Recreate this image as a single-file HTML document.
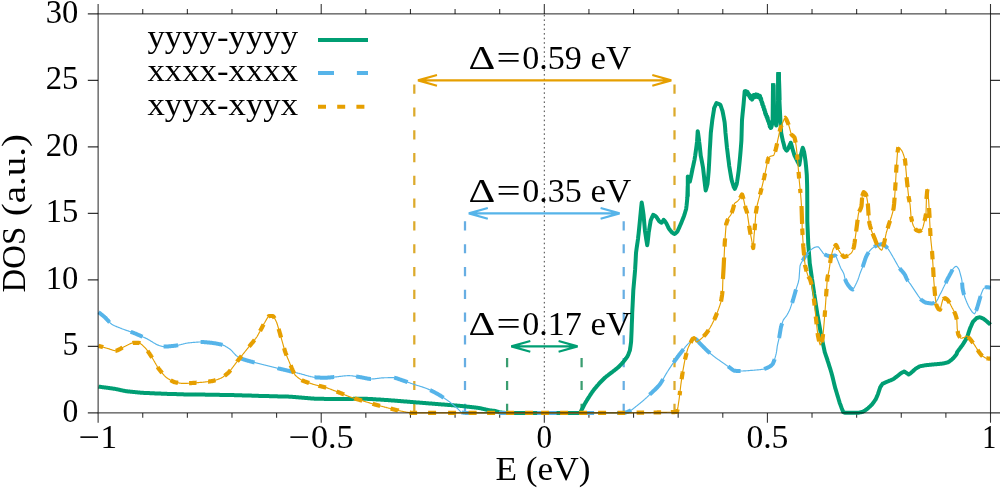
<!DOCTYPE html>
<html lang="en"><head><meta charset="utf-8"><title>DOS</title>
<style>html,body{margin:0;padding:0;background:#fff;}svg{display:block;}</style>
</head><body>
<svg width="1000" height="489" viewBox="0 0 1000 489">
<rect width="1000" height="489" fill="#ffffff"/>
<path d="M98.12,412.88v9.8M98.12,13.88v-9.8M142.74,412.88v4.9M142.74,13.88v-4.9M187.36,412.88v4.9M187.36,13.88v-4.9M231.98,412.88v4.9M231.98,13.88v-4.9M276.60,412.88v4.9M276.60,13.88v-4.9M321.21,412.88v9.8M321.21,13.88v-9.8M365.83,412.88v4.9M365.83,13.88v-4.9M410.45,412.88v4.9M410.45,13.88v-4.9M455.07,412.88v4.9M455.07,13.88v-4.9M499.69,412.88v4.9M499.69,13.88v-4.9M544.31,412.88v9.8M544.31,13.88v-9.8M588.93,412.88v4.9M588.93,13.88v-4.9M633.55,412.88v4.9M633.55,13.88v-4.9M678.17,412.88v4.9M678.17,13.88v-4.9M722.79,412.88v4.9M722.79,13.88v-4.9M767.41,412.88v9.8M767.41,13.88v-9.8M812.02,412.88v4.9M812.02,13.88v-4.9M856.64,412.88v4.9M856.64,13.88v-4.9M901.26,412.88v4.9M901.26,13.88v-4.9M945.88,412.88v4.9M945.88,13.88v-4.9M990.50,412.88v9.8M990.50,13.88v-9.8M98.12,412.88h-10.3M990.50,412.88h10.3M98.12,346.38h-10.3M990.50,346.38h10.3M98.12,279.88h-10.3M990.50,279.88h10.3M98.12,213.38h-10.3M990.50,213.38h10.3M98.12,146.88h-10.3M990.50,146.88h10.3M98.12,80.38h-10.3M990.50,80.38h10.3M98.12,13.88h-10.3M990.50,13.88h10.3" stroke="#000000" stroke-opacity="0.8" stroke-width="1.08" fill="none"/>
<path d="M544.31,412.88V13.88" stroke="#444" stroke-width="1" stroke-dasharray="1.6 2.957" fill="none"/>
<path d="M414.30,412.88V80.38" stroke="#DAA520" stroke-width="2.25" stroke-opacity="0.95" stroke-dasharray="9.2 13.59" fill="none"/>
<path d="M674.50,412.88V80.38" stroke="#DAA520" stroke-width="2.25" stroke-opacity="0.95" stroke-dasharray="9.2 13.59" fill="none"/>
<path d="M418.00,80.38H671.30M437.00,75.08L418.00,80.38L437.00,85.68M652.30,75.08L671.30,80.38L652.30,85.68" stroke="#E69F00" stroke-width="2.1" fill="none" stroke-linejoin="bevel" stroke-linecap="butt"/>
<path d="M465.00,412.88V213.38" stroke="#5FAAE1" stroke-width="2.25" stroke-opacity="0.95" stroke-dasharray="9.2 13.59" fill="none"/>
<path d="M623.70,412.88V213.38" stroke="#5FAAE1" stroke-width="2.25" stroke-opacity="0.95" stroke-dasharray="9.2 13.59" fill="none"/>
<path d="M468.80,213.38H619.60M487.80,208.08L468.80,213.38L487.80,218.68M600.60,208.08L619.60,213.38L600.60,218.68" stroke="#56B4E9" stroke-width="2.1" fill="none" stroke-linejoin="bevel" stroke-linecap="butt"/>
<path d="M507.10,412.88V346.38" stroke="#2F9868" stroke-width="2.25" stroke-opacity="0.95" stroke-dasharray="9.2 13.59" fill="none"/>
<path d="M581.60,412.88V346.38" stroke="#2F9868" stroke-width="2.25" stroke-opacity="0.95" stroke-dasharray="9.2 13.59" fill="none"/>
<path d="M511.30,346.38H577.60M530.30,341.08L511.30,346.38L530.30,351.68M558.60,341.08L577.60,346.38L558.60,351.68" stroke="#009E73" stroke-width="2.1" fill="none" stroke-linejoin="bevel" stroke-linecap="butt"/>
<path d="M98.6,386.6L99.1,386.7L99.6,386.8L100.1,386.8L100.6,386.9L101.1,387.0L101.6,387.0L102.1,387.1L102.6,387.2L103.1,387.2L103.6,387.3L104.1,387.4L104.6,387.4L105.1,387.5L105.6,387.6L106.1,387.6L106.6,387.7L107.1,387.8L107.6,387.8L108.1,387.9L108.6,388.0L109.1,388.1L109.6,388.1L110.1,388.2L110.6,388.3L111.1,388.3L111.6,388.4L112.1,388.5L112.6,388.6L113.1,388.6L113.6,388.7L114.1,388.8L114.5,388.8L114.6,388.8L115.1,388.9L115.6,389.0L116.1,389.1L116.6,389.2L117.1,389.3L117.6,389.4L118.1,389.5L118.6,389.6L119.1,389.7L119.6,389.8L120.1,390.0L120.6,390.1L121.1,390.2L121.6,390.3L122.1,390.4L122.6,390.5L123.1,390.6L123.6,390.7L124.1,390.8L124.6,390.9L125.1,391.0L125.6,391.1L126.1,391.2L126.6,391.2L126.8,391.3L127.1,391.3L127.6,391.4L128.1,391.4L128.6,391.5L129.1,391.5L129.6,391.6L130.1,391.6L130.6,391.7L131.1,391.7L131.6,391.8L132.1,391.8L132.6,391.9L133.1,391.9L133.6,392.0L134.1,392.0L134.6,392.1L135.1,392.1L135.6,392.2L136.1,392.2L136.6,392.3L137.1,392.3L137.6,392.4L138.1,392.4L138.6,392.5L139.1,392.5L139.6,392.6L140.1,392.6L140.6,392.7L141.1,392.7L141.5,392.8L141.6,392.8L142.1,392.8L142.6,392.8L143.1,392.8L143.6,392.9L144.1,392.9L144.6,392.9L145.1,392.9L145.6,393.0L146.1,393.0L146.6,393.0L147.1,393.0L147.6,393.0L148.1,393.1L148.6,393.1L149.1,393.1L149.6,393.1L150.1,393.2L150.6,393.2L151.1,393.2L151.6,393.2L152.1,393.2L152.6,393.3L153.1,393.3L153.6,393.3L154.1,393.3L154.6,393.4L155.1,393.4L155.6,393.4L156.1,393.4L156.6,393.4L157.1,393.5L157.6,393.5L158.1,393.5L158.6,393.5L159.1,393.5L159.6,393.6L160.1,393.6L160.6,393.6L161.1,393.6L161.6,393.7L162.1,393.7L162.6,393.7L163.1,393.7L163.6,393.7L163.6,393.7L164.1,393.8L164.6,393.8L165.1,393.8L165.6,393.8L166.1,393.8L166.6,393.8L167.1,393.9L167.6,393.9L168.1,393.9L168.6,393.9L169.1,393.9L169.6,393.9L170.1,393.9L170.6,394.0L171.1,394.0L171.6,394.0L172.1,394.0L172.6,394.0L173.1,394.0L173.6,394.1L174.1,394.1L174.6,394.1L175.1,394.1L175.6,394.1L176.1,394.1L176.6,394.1L177.1,394.2L177.6,394.2L178.1,394.2L178.6,394.2L179.1,394.2L179.6,394.2L180.1,394.2L180.6,394.3L181.1,394.3L181.6,394.3L182.1,394.3L182.6,394.3L183.1,394.3L183.6,394.4L184.1,394.4L184.6,394.4L185.1,394.4L185.6,394.4L186.1,394.4L186.6,394.4L187.1,394.4L187.6,394.5L188.1,394.5L188.2,394.5L188.6,394.5L189.1,394.5L189.6,394.5L190.1,394.5L190.6,394.5L191.1,394.5L191.6,394.5L192.1,394.5L192.6,394.5L193.1,394.5L193.6,394.5L194.1,394.5L194.6,394.5L195.1,394.6L195.6,394.6L196.1,394.6L196.6,394.6L197.1,394.6L197.6,394.6L198.1,394.6L198.6,394.6L199.1,394.6L199.6,394.6L200.1,394.6L200.6,394.6L201.1,394.6L201.6,394.6L202.1,394.6L202.6,394.6L203.1,394.6L203.6,394.6L204.1,394.6L204.6,394.6L205.1,394.6L205.6,394.7L206.1,394.7L206.6,394.7L207.1,394.7L207.6,394.7L208.1,394.7L208.6,394.7L209.1,394.7L209.6,394.7L210.1,394.7L210.6,394.7L211.1,394.7L211.6,394.7L212.1,394.7L212.6,394.7L212.7,394.7L213.1,394.7L213.6,394.7L214.1,394.8L214.6,394.8L215.1,394.8L215.6,394.8L216.1,394.8L216.6,394.8L217.1,394.8L217.6,394.8L218.1,394.8L218.6,394.8L219.1,394.8L219.6,394.9L220.1,394.9L220.6,394.9L221.1,394.9L221.6,394.9L222.1,394.9L222.6,394.9L223.1,394.9L223.6,394.9L224.1,394.9L224.6,395.0L225.1,395.0L225.6,395.0L226.1,395.0L226.6,395.0L227.1,395.0L227.6,395.0L228.1,395.0L228.6,395.0L229.1,395.0L229.6,395.1L230.1,395.1L230.6,395.1L231.1,395.1L231.6,395.1L232.1,395.1L232.6,395.1L233.1,395.1L233.6,395.1L234.1,395.1L234.6,395.2L235.1,395.2L235.6,395.2L236.1,395.2L236.6,395.2L237.1,395.2L237.2,395.2L237.6,395.2L238.1,395.2L238.6,395.3L239.1,395.3L239.6,395.3L240.1,395.3L240.6,395.3L241.1,395.3L241.6,395.3L242.1,395.4L242.6,395.4L243.1,395.4L243.6,395.4L244.1,395.4L244.6,395.4L245.1,395.4L245.6,395.5L246.1,395.5L246.6,395.5L247.1,395.5L247.6,395.5L248.1,395.5L248.6,395.6L249.1,395.6L249.6,395.6L250.1,395.6L250.6,395.6L251.1,395.6L251.6,395.6L252.1,395.7L252.6,395.7L253.1,395.7L253.6,395.7L254.1,395.7L254.6,395.7L255.1,395.8L255.6,395.8L256.1,395.8L256.6,395.8L257.1,395.8L257.6,395.8L258.1,395.8L258.6,395.9L259.1,395.9L259.6,395.9L260.1,395.9L260.6,395.9L261.1,395.9L261.6,395.9L261.8,396.0L262.1,396.0L262.6,396.0L263.1,396.0L263.6,396.0L264.1,396.0L264.6,396.0L265.1,396.0L265.6,396.1L266.1,396.1L266.6,396.1L267.1,396.1L267.6,396.1L268.1,396.1L268.6,396.1L269.1,396.1L269.6,396.2L270.1,396.2L270.6,396.2L271.1,396.2L271.6,396.2L272.1,396.2L272.6,396.2L273.1,396.2L273.6,396.3L274.1,396.3L274.6,396.3L275.1,396.3L275.6,396.3L276.1,396.3L276.6,396.3L277.1,396.3L277.6,396.4L278.1,396.4L278.6,396.4L279.1,396.4L279.6,396.4L280.1,396.4L280.6,396.4L281.1,396.4L281.6,396.5L282.1,396.5L282.6,396.5L283.1,396.5L283.6,396.5L284.1,396.5L284.6,396.5L285.1,396.6L285.6,396.6L286.1,396.6L286.6,396.6L287.1,396.6L287.6,396.6L288.1,396.6L288.6,396.6L289.1,396.7L289.6,396.7L290.0,396.7L290.1,396.7L290.6,396.7L291.1,396.8L291.6,396.8L292.1,396.8L292.6,396.9L293.1,396.9L293.6,397.0L294.1,397.0L294.6,397.0L295.1,397.1L295.6,397.1L296.1,397.2L296.6,397.2L297.1,397.2L297.6,397.3L298.1,397.3L298.6,397.4L299.1,397.4L299.6,397.4L300.1,397.5L300.6,397.5L301.1,397.6L301.6,397.6L302.1,397.7L302.6,397.7L303.1,397.7L303.6,397.8L304.1,397.8L304.6,397.9L305.1,397.9L305.6,398.0L306.1,398.0L306.6,398.0L307.1,398.1L307.6,398.1L308.1,398.2L308.6,398.2L309.1,398.2L309.6,398.3L310.1,398.3L310.6,398.4L311.1,398.4L311.6,398.4L312.1,398.5L312.6,398.5L313.1,398.5L313.6,398.6L314.1,398.6L314.5,398.7L314.6,398.7L315.1,398.7L315.6,398.7L316.1,398.7L316.6,398.7L317.1,398.7L317.6,398.7L318.1,398.7L318.6,398.7L319.1,398.8L319.6,398.8L320.1,398.8L320.6,398.8L321.1,398.8L321.6,398.8L322.1,398.8L322.6,398.8L323.1,398.8L323.6,398.8L324.1,398.9L324.6,398.9L325.1,398.9L325.6,398.9L326.1,398.9L326.6,398.9L327.1,398.9L327.6,398.9L328.1,398.9L328.6,399.0L329.1,399.0L329.6,399.0L330.1,399.0L330.6,399.0L331.1,399.0L331.6,399.0L332.1,399.0L332.6,399.0L333.1,399.0L333.6,399.0L334.1,399.1L334.6,399.1L335.1,399.1L335.6,399.1L336.1,399.1L336.6,399.1L337.1,399.1L337.6,399.1L338.1,399.1L338.6,399.1L339.1,399.1L339.1,399.1L339.6,399.1L340.1,399.1L340.6,399.1L341.1,399.1L341.6,399.1L342.1,399.1L342.6,399.1L343.1,399.1L343.6,399.1L344.1,399.1L344.6,399.0L345.1,399.0L345.6,399.0L346.1,399.0L346.6,399.0L347.1,399.0L347.6,399.0L348.1,399.0L348.6,399.0L349.1,398.9L349.6,398.9L350.1,398.9L350.6,398.9L351.1,398.9L351.6,398.9L352.1,398.9L352.6,398.9L353.1,398.9L353.6,398.8L354.1,398.8L354.6,398.8L355.1,398.8L355.6,398.8L356.1,398.8L356.6,398.8L357.1,398.8L357.6,398.8L358.1,398.8L358.6,398.7L359.1,398.7L359.6,398.7L360.1,398.7L360.6,398.7L361.1,398.7L361.6,398.7L362.1,398.7L362.6,398.7L363.1,398.7L363.6,398.7L363.6,398.7L364.1,398.7L364.6,398.7L365.1,398.7L365.6,398.7L366.1,398.8L366.6,398.8L367.1,398.8L367.6,398.9L368.1,398.9L368.6,398.9L369.1,398.9L369.6,399.0L370.1,399.0L370.6,399.0L371.1,399.1L371.6,399.1L372.1,399.1L372.6,399.1L373.1,399.2L373.6,399.2L374.1,399.2L374.6,399.3L375.1,399.3L375.6,399.3L376.1,399.4L376.6,399.4L377.1,399.4L377.6,399.5L378.1,399.5L378.6,399.5L379.1,399.5L379.6,399.6L380.1,399.6L380.6,399.6L381.1,399.7L381.6,399.7L382.1,399.7L382.6,399.8L383.1,399.8L383.6,399.8L384.1,399.9L384.6,399.9L385.1,399.9L385.6,400.0L386.1,400.0L386.6,400.0L387.1,400.1L387.6,400.1L388.1,400.1L388.2,400.1L388.6,400.2L389.1,400.2L389.6,400.2L390.1,400.3L390.6,400.3L391.1,400.4L391.6,400.4L392.1,400.4L392.6,400.5L393.1,400.5L393.6,400.5L394.1,400.6L394.6,400.6L395.1,400.7L395.6,400.7L396.1,400.7L396.6,400.8L397.1,400.8L397.6,400.9L398.1,400.9L398.6,400.9L399.1,401.0L399.6,401.0L400.1,401.1L400.6,401.1L401.1,401.2L401.6,401.2L402.1,401.2L402.6,401.3L403.1,401.3L403.6,401.4L404.1,401.4L404.6,401.4L405.1,401.5L405.6,401.5L406.1,401.6L406.6,401.6L407.1,401.6L407.6,401.7L408.1,401.7L408.6,401.8L409.1,401.8L409.6,401.8L410.1,401.9L410.6,401.9L411.1,402.0L411.6,402.0L412.1,402.0L412.6,402.1L412.7,402.1L413.1,402.1L413.6,402.2L414.1,402.2L414.6,402.2L415.1,402.3L415.6,402.3L416.1,402.4L416.6,402.4L417.1,402.4L417.6,402.5L418.1,402.5L418.6,402.6L419.1,402.6L419.6,402.6L420.1,402.7L420.6,402.7L421.1,402.8L421.6,402.8L422.1,402.8L422.6,402.9L423.1,402.9L423.6,403.0L424.1,403.0L424.6,403.0L425.1,403.1L425.6,403.1L426.1,403.2L426.6,403.2L427.1,403.2L427.6,403.3L428.1,403.3L428.6,403.4L429.1,403.4L429.6,403.4L430.1,403.5L430.6,403.5L431.1,403.6L431.6,403.6L432.1,403.6L432.6,403.7L433.1,403.7L433.6,403.8L434.1,403.8L434.6,403.8L435.1,403.9L435.6,403.9L436.1,404.0L436.6,404.0L437.1,404.0L437.2,404.0L437.6,404.1L438.1,404.1L438.6,404.2L439.1,404.2L439.6,404.2L440.1,404.3L440.6,404.3L441.1,404.4L441.6,404.4L442.1,404.4L442.6,404.5L443.1,404.5L443.6,404.6L444.1,404.6L444.6,404.6L445.1,404.7L445.6,404.7L446.1,404.8L446.6,404.8L447.1,404.8L447.6,404.9L448.1,404.9L448.6,404.9L449.1,405.0L449.6,405.0L450.1,405.1L450.6,405.1L451.1,405.1L451.6,405.2L452.1,405.2L452.6,405.3L453.1,405.3L453.6,405.3L454.1,405.4L454.6,405.4L455.1,405.5L455.6,405.5L456.1,405.5L456.6,405.6L457.1,405.6L457.6,405.7L458.1,405.7L458.6,405.7L459.1,405.8L459.6,405.8L460.1,405.9L460.6,405.9L461.1,406.0L461.6,406.0L461.8,406.0L462.1,406.0L462.6,406.1L463.1,406.2L463.6,406.2L464.1,406.3L464.6,406.3L465.1,406.4L465.6,406.4L466.1,406.5L466.6,406.5L467.1,406.6L467.6,406.7L468.1,406.7L468.6,406.8L469.1,406.8L469.6,406.9L470.1,406.9L470.6,407.0L471.1,407.1L471.6,407.1L472.1,407.2L472.6,407.2L473.1,407.3L473.6,407.3L474.1,407.4L474.6,407.5L475.1,407.5L475.6,407.6L476.1,407.6L476.6,407.7L477.1,407.7L477.6,407.8L478.1,407.9L478.6,407.9L479.0,408.0L479.1,408.0L479.6,408.1L480.1,408.2L480.6,408.3L481.1,408.4L481.6,408.5L482.1,408.7L482.6,408.8L483.1,408.9L483.6,409.0L484.1,409.1L484.6,409.2L485.1,409.3L485.6,409.5L486.1,409.6L486.6,409.7L487.1,409.8L487.6,409.9L488.1,410.0L488.6,410.1L489.1,410.2L489.6,410.3L490.0,410.4L490.1,410.4L490.6,410.5L491.1,410.5L491.6,410.6L492.1,410.6L492.6,410.7L493.1,410.7L493.6,410.8L494.1,410.8L494.6,410.9L494.9,410.9L495.1,411.0L495.6,411.1L496.1,411.3L496.6,411.4L497.1,411.6L497.6,411.7L498.1,411.9L498.6,412.0L499.1,412.2L499.6,412.3L499.8,412.4L500.1,412.4L500.6,412.5L501.1,412.5L501.6,412.6L502.1,412.6L502.6,412.7L503.1,412.7L503.6,412.8L504.1,412.8L504.6,412.9L504.7,412.9L505.1,412.9L505.6,412.9L506.1,412.9L506.6,412.9L507.1,412.9L507.6,412.9L508.1,412.9L508.6,412.9L509.1,412.9L509.6,412.9L510.1,412.9L510.6,412.9L511.1,412.9L511.6,412.9L512.1,412.9L512.6,412.9L513.1,412.9L513.6,412.9L514.1,412.9L514.6,412.9L515.1,412.9L515.6,412.9L516.1,412.9L516.6,412.9L517.1,412.9L517.6,412.9L518.1,412.9L518.6,412.9L519.1,412.9L519.6,412.9L520.1,412.9L520.6,412.9L521.1,412.9L521.6,412.9L522.1,412.9L522.6,412.9L523.1,412.9L523.6,412.9L524.1,412.9L524.6,412.9L525.1,412.9L525.6,412.9L526.1,412.9L526.6,412.9L527.1,412.9L527.6,412.9L528.1,412.9L528.6,412.9L529.1,412.9L529.6,412.9L530.1,412.9L530.6,412.9L531.1,412.9L531.6,412.9L532.1,412.9L532.6,412.9L533.1,412.9L533.6,412.9L534.1,412.9L534.6,412.9L535.1,412.9L535.6,412.9L536.1,412.9L536.6,412.9L537.1,412.9L537.6,412.9L538.1,412.9L538.6,412.9L539.1,412.9L539.1,412.9L539.6,412.9L540.1,412.9L540.6,412.9L541.1,412.9L541.6,412.9L542.1,412.9L542.6,412.9L543.1,412.9L543.6,412.9L544.1,412.9L544.6,412.9L545.1,412.9L545.6,412.9L546.1,412.9L546.6,412.9L547.1,412.9L547.6,412.9L548.1,412.9L548.6,412.9L549.1,412.9L549.6,412.9L550.1,412.9L550.6,412.9L551.1,412.9L551.6,412.9L552.1,412.9L552.6,412.9L553.1,412.9L553.6,412.9L554.1,412.9L554.6,412.9L555.1,412.9L555.6,412.9L556.1,412.9L556.6,412.9L557.1,412.9L557.6,412.9L558.1,412.9L558.6,412.9L559.1,412.9L559.6,412.9L560.1,412.9L560.6,412.9L561.1,412.9L561.6,412.9L562.1,412.9L562.6,412.9L563.1,412.9L563.6,412.9L564.1,412.9L564.6,412.9L565.1,412.9L565.6,412.9L566.1,412.9L566.6,412.9L567.1,412.9L567.6,412.9L568.1,412.9L568.6,412.9L569.1,412.9L569.6,412.9L570.1,412.9L570.6,412.9L571.1,412.9L571.6,412.9L572.1,412.9L572.6,412.9L573.1,412.9L573.6,412.9L574.1,412.9L574.6,412.9L575.1,412.9L575.6,412.9L576.1,412.9L576.6,412.9L577.1,412.9L577.6,412.9L578.1,412.9L578.6,412.9L579.1,412.9L579.6,412.9L579.8,412.9L580.1,412.5L580.6,411.7L581.1,410.8L581.6,410.0L582.0,409.2L582.1,409.1L582.6,408.1L583.1,407.1L583.6,406.1L584.1,405.1L584.5,404.3L584.6,404.1L585.1,403.3L585.6,402.4L586.1,401.6L586.6,400.8L587.1,399.9L587.6,399.1L588.1,398.3L588.2,398.2L588.6,397.5L589.1,396.8L589.6,396.0L590.1,395.2L590.6,394.5L591.1,393.7L591.6,393.0L592.1,392.2L592.6,391.5L593.1,390.8L593.1,390.8L593.6,390.2L594.1,389.5L594.6,388.9L595.1,388.3L595.6,387.7L596.1,387.1L596.6,386.5L597.1,385.9L597.6,385.3L598.1,384.8L598.6,384.2L599.1,383.6L599.2,383.4L599.6,383.0L600.1,382.5L600.6,382.0L601.1,381.5L601.6,381.0L602.1,380.5L602.6,380.0L603.1,379.5L603.6,379.0L604.1,378.5L604.6,378.0L605.1,377.5L605.3,377.3L605.6,377.1L606.1,376.7L606.6,376.3L607.1,375.9L607.6,375.6L608.1,375.2L608.6,374.8L609.1,374.4L609.6,374.0L610.1,373.6L610.6,373.3L611.1,372.9L611.6,372.5L612.1,372.1L612.6,371.7L612.7,371.7L613.1,371.3L613.6,370.9L614.1,370.6L614.6,370.2L615.1,369.8L615.6,369.4L616.1,369.0L616.6,368.6L617.1,368.2L617.6,367.8L618.1,367.4L618.6,367.0L618.8,366.7L619.1,366.5L619.6,365.9L620.1,365.4L620.6,364.9L621.1,364.3L621.6,363.8L622.1,363.2L622.6,362.6L623.1,362.1L623.6,361.5L623.7,361.3L624.1,360.9L624.6,360.2L625.1,359.6L625.6,358.9L626.1,358.3L626.6,357.6L627.1,356.9L627.4,356.4L627.6,356.1L628.1,354.9L628.6,353.7L629.1,352.4L629.6,351.1L629.9,350.3L630.1,348.9L630.6,345.6L631.1,341.8L631.1,341.7L631.6,330.6L631.8,324.5L632.1,317.5L632.2,313.0L632.6,305.5L633.1,294.8L633.3,290.5L633.6,287.0L634.1,281.3L634.6,275.7L635.1,269.9L635.2,268.0L635.6,261.2L636.0,253.0L636.1,252.3L636.6,248.6L637.1,245.1L637.6,241.7L638.1,238.2L638.2,237.0L638.6,233.7L639.1,228.7L639.6,223.6L640.1,218.6L640.2,217.5L640.6,213.4L641.1,208.2L641.6,203.4L641.7,202.5L642.1,204.8L642.6,208.1L643.1,211.6L643.5,214.5L643.6,215.5L644.1,221.0L644.6,226.6L645.0,231.0L645.1,231.6L645.6,235.0L646.1,238.4L646.6,241.5L647.1,244.4L647.2,245.2L647.6,242.7L648.1,238.3L648.6,233.8L648.7,232.5L649.1,230.3L649.6,227.1L650.1,224.1L650.6,221.1L650.7,220.5L651.1,219.5L651.6,218.3L652.1,217.2L652.6,216.1L653.1,215.1L653.2,214.8L653.6,215.0L654.1,215.3L654.6,215.6L655.1,215.9L655.6,216.3L656.1,216.6L656.2,216.7L656.6,217.2L657.1,218.0L657.6,218.8L658.1,219.5L658.6,220.3L659.1,221.0L659.2,221.2L659.6,221.5L660.1,221.9L660.6,222.2L661.1,222.5L661.5,222.7L661.6,222.7L662.1,222.1L662.6,221.4L663.1,220.7L663.6,220.1L663.7,219.9L664.1,220.3L664.6,220.9L665.1,221.5L665.6,222.2L666.0,222.7L666.1,222.9L666.6,223.9L667.1,224.9L667.6,225.9L668.1,227.0L668.6,228.0L669.0,228.7L669.1,228.9L669.6,229.5L670.1,230.2L670.6,230.8L671.1,231.4L671.6,232.0L672.0,232.5L672.1,232.6L672.6,232.9L673.1,233.2L673.6,233.5L674.1,233.8L674.5,234.0L674.6,234.0L675.1,233.6L675.6,233.2L676.1,232.8L676.6,232.3L677.1,231.9L677.2,231.7L677.6,231.1L678.1,230.0L678.6,228.9L679.1,227.8L679.6,226.7L680.1,225.5L680.6,224.4L681.0,223.5L681.1,223.3L681.6,222.0L682.1,220.8L682.6,219.6L683.1,218.3L683.6,217.0L684.0,216.0L684.1,215.7L684.6,214.1L685.1,212.5L685.6,210.8L686.1,209.1L686.2,208.5L686.6,205.3L687.1,200.2L687.3,198.0L687.6,189.9L687.7,186.0L687.8,196.0L687.8,176.5L688.1,176.8L688.6,177.5L688.7,177.7L689.1,179.0L689.6,181.0L689.8,181.7L690.1,180.6L690.6,178.4L691.0,176.5L691.1,176.1L691.6,173.6L692.1,171.0L692.5,169.0L692.6,168.6L693.1,166.3L693.6,164.0L694.1,161.6L694.6,159.3L694.7,158.5L695.1,156.1L695.6,152.6L696.1,148.9L696.6,145.2L697.0,142.0L697.1,140.7L697.6,133.2L697.7,131.2L698.1,133.3L698.6,137.0L699.1,140.8L699.2,142.0L699.6,145.0L700.1,149.6L700.6,154.1L700.7,155.5L701.1,157.4L701.6,160.0L702.1,162.6L702.6,165.3L703.0,167.5L703.1,168.3L703.6,172.7L704.1,177.3L704.5,181.0L704.6,181.7L705.1,185.9L705.6,189.7L705.7,190.4L706.1,189.2L706.6,187.5L707.1,185.6L707.5,184.0L707.6,183.1L708.1,177.6L708.6,171.8L708.7,170.5L709.1,163.4L709.6,154.0L709.7,151.0L710.1,145.1L710.6,136.4L710.8,133.0L711.1,130.3L711.6,126.0L712.1,121.7L712.3,120.0L712.6,118.1L713.1,115.0L713.6,111.9L714.1,108.9L714.2,108.0L714.6,107.2L715.1,106.0L715.6,104.9L716.1,103.8L716.5,103.0L716.6,103.1L717.1,103.3L717.6,103.5L718.1,103.7L718.6,103.9L719.1,104.1L719.6,104.4L720.1,104.6L720.2,104.7L720.6,105.5L721.1,106.9L721.6,108.3L722.1,109.8L722.5,111.0L722.6,111.5L723.1,114.0L723.6,116.6L724.1,119.3L724.6,122.1L724.7,123.0L725.1,127.5L725.5,133.0L725.6,133.9L726.1,139.0L726.6,144.0L727.0,148.0L727.1,148.8L727.6,152.8L728.1,156.9L728.6,160.8L729.1,164.8L729.2,166.0L729.6,168.1L730.1,171.2L730.6,174.2L731.1,177.2L731.5,179.5L731.6,179.8L732.1,181.6L732.6,183.3L733.1,184.9L733.6,186.5L733.7,187.0L734.1,187.6L734.6,188.5L734.8,188.8L735.1,188.2L735.6,187.0L736.1,185.8L736.6,184.4L736.7,184.0L737.1,181.8L737.6,178.4L738.1,174.9L738.6,171.3L738.7,170.5L739.1,166.7L739.6,161.7L740.1,156.6L740.2,155.5L740.6,150.8L741.1,144.6L741.4,140.5L741.6,134.0L742.0,120.0L742.1,119.0L742.6,113.8L743.1,109.0L743.5,105.0L743.6,103.9L744.1,97.9L744.6,92.2L744.7,91.2L745.1,91.5L745.6,91.2L746.1,93.5L746.6,91.7L747.1,94.2L747.6,91.9L748.0,94.8L748.1,92.9L748.6,95.1L749.1,94.4L749.6,96.9L750.1,95.4L750.6,98.5L751.1,96.9L751.6,98.9L751.7,97.8L752.1,99.6L752.6,96.9L753.1,98.0L753.6,95.0L754.0,96.5L754.1,94.9L754.6,97.4L755.1,95.1L755.6,96.9L756.1,94.4L756.6,96.4L757.0,94.7L757.1,97.0L757.6,94.7L758.1,97.0L758.6,95.5L759.1,97.4L759.6,95.7L760.0,97.7L760.1,96.1L760.6,99.7L761.1,98.6L761.6,102.3L762.1,102.0L762.2,104.3L762.6,103.6L763.1,106.9L763.6,106.4L764.1,109.9L764.6,109.6L765.1,113.3L765.2,111.6L765.6,114.8L766.1,114.1L766.6,117.3L767.1,116.5L767.5,119.4L767.6,117.6L768.1,121.3L768.6,120.9L769.1,123.8L769.6,124.2L769.7,126.5L770.1,124.8L770.6,128.0L771.1,127.6L771.2,127.8L771.6,126.4L772.1,124.1L772.6,121.3L772.8,120.0L773.0,85.2L773.1,85.2L773.4,85.2L773.6,96.7L773.8,110.0L774.1,112.3L774.6,115.9L775.1,119.2L775.6,122.2L776.1,124.9L776.2,125.5L776.6,121.2L777.1,115.0L777.6,108.1L778.1,100.2L778.1,100.0L778.3,74.0L778.6,74.0L778.9,74.0L779.1,83.3L779.4,100.0L779.6,104.1L780.1,114.1L780.5,122.0L780.6,123.4L781.1,131.4L781.2,133.0L781.6,135.0L782.1,137.3L782.6,139.6L782.8,140.5L783.1,141.7L783.6,143.6L784.1,145.6L784.6,147.5L784.7,148.0L785.1,148.5L785.6,149.3L786.1,150.0L786.6,150.6L786.7,150.7L787.1,150.2L787.6,149.4L788.1,148.6L788.5,148.0L788.6,147.8L789.1,146.6L789.6,145.3L790.1,144.1L790.6,143.0L790.7,142.7L791.1,143.8L791.6,145.6L792.1,147.4L792.2,148.0L792.6,149.2L793.1,150.9L793.6,152.5L794.1,154.2L794.5,155.5L794.6,155.7L795.1,156.7L795.6,157.7L796.1,158.7L796.6,159.7L797.1,160.7L797.5,161.5L797.6,161.7L798.1,162.6L798.6,163.6L799.1,164.5L799.3,164.8L799.6,163.2L800.1,160.0L800.6,156.8L800.8,155.5L801.1,154.2L801.6,152.1L802.1,150.1L802.6,148.2L802.7,147.7L803.1,148.7L803.6,150.3L804.1,152.0L804.2,152.5L804.6,154.8L805.1,158.3L805.6,161.9L805.7,163.0L806.1,166.8L806.6,172.5L806.8,175.0L807.1,184.2L807.2,190.0L807.3,206.0L807.3,221.0L807.6,228.1L808.1,239.8L808.2,243.5L808.6,248.1L809.1,254.7L809.6,261.0L809.7,263.0L810.1,265.5L810.6,269.1L811.1,272.6L811.6,276.1L812.0,279.0L812.1,279.6L812.6,282.9L813.1,286.3L813.6,289.6L814.1,292.9L814.2,294.0L814.6,296.2L815.1,299.5L815.6,302.7L816.1,306.0L816.6,309.2L817.1,312.5L817.2,313.5L817.6,315.4L818.1,318.3L818.6,321.1L819.1,323.9L819.6,326.7L820.1,329.5L820.6,332.2L821.0,334.5L821.1,334.9L821.6,337.3L822.1,339.7L822.6,342.0L823.1,344.4L823.6,346.7L824.1,349.0L824.6,351.3L824.7,352.0L825.1,353.1L825.6,354.6L826.1,356.1L826.6,357.5L827.1,359.0L827.6,360.5L827.7,361.0L828.1,362.1L828.6,363.7L829.1,365.3L829.6,366.8L830.1,368.4L830.6,370.0L831.1,371.7L831.5,373.0L831.6,373.4L832.1,375.3L832.6,377.3L833.1,379.3L833.6,381.4L834.1,383.4L834.6,385.4L835.1,387.4L835.2,388.0L835.6,389.2L836.1,390.8L836.6,392.5L837.1,394.2L837.6,395.9L838.1,397.5L838.6,399.2L839.1,400.8L839.6,402.5L839.7,403.0L840.1,403.9L840.6,405.3L841.1,406.6L841.6,408.0L842.1,409.3L842.6,410.6L843.1,411.8L843.2,412.0L843.6,412.2L844.1,412.4L844.6,412.6L845.0,412.7L845.1,412.7L845.6,412.7L846.1,412.7L846.6,412.7L847.1,412.7L847.6,412.7L848.1,412.7L848.6,412.7L849.1,412.7L849.6,412.7L850.1,412.7L850.6,412.7L851.0,412.7L851.1,412.7L851.6,412.7L852.1,412.7L852.6,412.7L853.1,412.7L853.6,412.7L854.1,412.7L854.6,412.7L855.1,412.7L855.6,412.7L856.1,412.7L856.6,412.7L857.1,412.7L857.6,412.7L858.1,412.7L858.5,412.7L858.6,412.7L859.1,412.6L859.6,412.5L860.1,412.4L860.6,412.3L861.1,412.2L861.6,412.1L862.1,411.9L862.6,411.8L863.0,411.7L863.1,411.6L863.6,411.3L864.1,411.0L864.6,410.7L865.1,410.4L865.6,410.0L866.1,409.7L866.6,409.3L867.1,409.0L867.5,408.7L867.6,408.6L868.1,408.2L868.6,407.7L869.1,407.2L869.6,406.8L870.1,406.3L870.6,405.8L871.1,405.4L871.6,404.9L872.0,404.5L872.1,404.4L872.6,403.7L873.1,403.0L873.6,402.3L874.1,401.6L874.6,400.9L875.1,400.2L875.6,399.5L875.7,399.2L876.1,398.5L876.6,397.3L877.1,396.2L877.6,395.0L878.0,394.0L878.1,393.7L878.6,392.2L879.1,390.7L879.6,389.2L880.1,387.7L880.2,387.2L880.6,386.7L881.1,385.9L881.6,385.1L882.1,384.4L882.5,383.8L882.6,383.7L883.1,383.5L883.6,383.3L884.1,383.0L884.6,382.8L885.1,382.6L885.6,382.3L886.1,382.1L886.6,381.9L887.0,381.7L887.1,381.7L887.6,381.5L888.1,381.3L888.6,381.1L889.1,380.9L889.6,380.7L890.1,380.5L890.6,380.3L891.1,380.1L891.6,379.9L892.1,379.7L892.6,379.5L893.0,379.3L893.1,379.2L893.6,378.9L894.1,378.5L894.6,378.2L895.1,377.8L895.6,377.4L896.1,377.0L896.6,376.7L897.1,376.3L897.5,376.0L897.6,375.9L898.1,375.5L898.6,375.1L899.1,374.7L899.6,374.3L900.1,373.9L900.6,373.5L901.1,373.1L901.2,373.0L901.6,372.8L902.1,372.6L902.6,372.3L903.1,372.0L903.6,371.8L904.1,371.6L904.2,371.5L904.6,371.7L905.1,372.0L905.6,372.4L906.1,372.7L906.5,373.0L906.6,373.1L907.1,373.4L907.6,373.8L908.1,374.1L908.6,374.4L908.7,374.5L909.1,374.3L909.6,373.9L910.1,373.6L910.6,373.2L911.1,372.8L911.6,372.4L911.7,372.2L912.1,371.9L912.6,371.5L913.1,371.0L913.6,370.5L914.1,370.1L914.6,369.6L915.1,369.2L915.5,368.8L915.6,368.7L916.1,368.4L916.6,368.1L917.1,367.9L917.6,367.6L918.1,367.3L918.6,367.0L919.1,366.7L919.6,366.5L920.0,366.2L920.1,366.2L920.6,366.1L921.1,366.0L921.6,366.0L922.1,365.9L922.6,365.8L923.1,365.7L923.6,365.6L924.1,365.5L924.6,365.4L925.1,365.3L925.6,365.3L926.0,365.2L926.1,365.2L926.6,365.1L927.1,365.1L927.6,365.0L928.1,365.0L928.6,364.9L929.1,364.9L929.6,364.8L930.1,364.8L930.6,364.7L931.1,364.7L931.6,364.6L932.1,364.6L932.6,364.5L933.1,364.5L933.6,364.4L934.1,364.4L934.6,364.3L935.0,364.3L935.1,364.3L935.6,364.2L936.1,364.2L936.6,364.2L937.1,364.1L937.6,364.1L938.1,364.0L938.6,364.0L939.1,363.9L939.6,363.9L940.1,363.8L940.6,363.8L941.1,363.7L941.6,363.7L942.1,363.6L942.6,363.6L943.0,363.5L943.1,363.5L943.6,363.4L944.1,363.3L944.6,363.2L945.1,363.0L945.6,362.9L946.1,362.8L946.6,362.7L947.1,362.5L947.6,362.4L948.1,362.2L948.2,362.2L948.6,362.0L949.1,361.6L949.6,361.2L950.1,360.8L950.6,360.5L951.1,360.1L951.6,359.7L952.1,359.3L952.6,358.9L952.7,358.7L953.1,358.4L953.6,357.8L954.1,357.2L954.6,356.6L955.1,356.0L955.6,355.4L956.1,354.8L956.5,354.2L956.6,354.0L957.1,352.5L957.2,352.0L957.6,351.5L958.1,350.8L958.6,350.1L959.1,349.5L959.6,348.8L960.1,348.2L960.6,347.5L961.1,346.9L961.6,346.2L962.1,345.5L962.5,345.0L962.6,344.8L963.1,344.0L963.6,343.2L964.1,342.4L964.6,341.6L965.1,340.8L965.6,339.9L966.1,339.1L966.6,338.2L967.0,337.5L967.1,337.2L967.6,335.8L968.1,334.3L968.6,332.7L969.1,331.2L969.6,329.7L970.0,328.5L970.1,328.3L970.6,327.1L971.1,326.0L971.6,324.8L972.1,323.7L972.6,322.6L973.0,321.7L973.1,321.6L973.6,321.1L974.1,320.6L974.6,320.1L975.1,319.6L975.6,319.1L976.1,318.6L976.6,318.1L976.7,318.0L977.1,317.9L977.6,317.8L978.1,317.6L978.6,317.5L979.1,317.4L979.6,317.3L979.7,317.2L980.1,317.4L980.6,317.5L981.1,317.7L981.6,317.9L982.1,318.1L982.6,318.4L983.1,318.6L983.5,318.7L983.6,318.8L984.1,319.2L984.6,319.6L985.1,320.0L985.6,320.4L986.1,320.8L986.6,321.2L987.1,321.6L987.2,321.7L987.6,322.1L988.1,322.5L988.6,323.0L989.1,323.4L989.6,323.9L990.1,324.3L990.5,324.7" stroke="#009E73" stroke-width="4" fill="none" stroke-linejoin="round" stroke-linecap="butt"/>
<path d="M772.8,120L773.0,85.2L773.4,85.2L773.8,110M778.1,100L778.3,74L778.9,74L779.4,100" stroke="#009E73" stroke-width="4" fill="none" stroke-linejoin="miter"/>
<path d="M98.6,312.3L99.1,312.6L99.6,313.0L100.1,313.4L100.6,313.8L101.1,314.2L101.6,314.6L102.1,315.0L102.6,315.4L103.1,315.8L103.6,316.2L104.1,316.6L104.6,317.1L104.7,317.2L105.1,317.5L105.6,318.0L106.1,318.5L106.6,319.1L107.1,319.6L107.6,320.1L108.1,320.7L108.6,321.2L109.1,321.8L109.6,322.3L110.1,322.8L110.6,323.3L111.1,323.7L111.6,324.2L112.1,324.5L112.1,324.5L112.6,324.8L113.1,325.1L113.6,325.3L114.1,325.6L114.6,325.8L115.1,326.0L115.6,326.2L116.1,326.4L116.6,326.6L117.1,326.9L117.6,327.0L118.1,327.2L118.6,327.4L119.1,327.6L119.6,327.8L120.1,328.0L120.6,328.2L121.1,328.4L121.6,328.6L121.9,328.7L122.1,328.8L122.6,329.0L123.1,329.2L123.6,329.3L124.1,329.5L124.6,329.7L125.1,329.9L125.6,330.1L126.1,330.2L126.6,330.4L127.1,330.6L127.6,330.8L128.1,330.9L128.6,331.1L129.1,331.3L129.6,331.5L130.1,331.6L130.6,331.8L131.1,332.0L131.6,332.2L132.1,332.3L132.6,332.5L133.1,332.7L133.6,332.9L134.1,333.1L134.2,333.1L134.6,333.3L135.1,333.5L135.6,333.7L136.1,333.9L136.6,334.1L137.1,334.3L137.6,334.6L138.1,334.8L138.6,335.0L139.1,335.2L139.6,335.4L140.1,335.6L140.6,335.8L141.1,336.1L141.6,336.3L142.1,336.5L142.6,336.7L143.1,337.0L143.6,337.2L144.1,337.4L144.6,337.7L145.1,337.9L145.6,338.1L146.1,338.4L146.4,338.5L146.6,338.6L147.1,338.9L147.6,339.1L148.1,339.4L148.6,339.7L149.1,340.0L149.6,340.3L150.1,340.6L150.6,340.9L151.1,341.2L151.6,341.5L152.1,341.8L152.6,342.1L153.1,342.5L153.6,342.8L154.1,343.1L154.6,343.3L155.1,343.6L155.6,343.9L156.1,344.2L156.6,344.4L157.1,344.7L157.6,344.9L158.1,345.1L158.6,345.3L158.7,345.4L159.1,345.5L159.6,345.7L160.1,345.8L160.6,346.0L161.1,346.1L161.6,346.3L162.1,346.4L162.6,346.5L163.1,346.6L163.6,346.6L163.6,346.6L164.1,346.6L164.6,346.6L165.1,346.6L165.6,346.6L166.1,346.5L166.6,346.5L167.1,346.5L167.6,346.4L168.1,346.4L168.6,346.4L169.1,346.3L169.6,346.3L170.1,346.2L170.6,346.2L171.1,346.1L171.6,346.1L172.1,346.0L172.6,346.0L173.1,345.9L173.6,345.9L174.1,345.8L174.6,345.8L175.1,345.7L175.6,345.7L175.9,345.6L176.1,345.6L176.6,345.5L177.1,345.4L177.6,345.3L178.1,345.2L178.6,345.1L179.1,345.0L179.6,344.9L180.1,344.8L180.6,344.7L181.1,344.5L181.6,344.4L182.1,344.3L182.6,344.2L183.1,344.0L183.6,343.9L184.1,343.8L184.6,343.7L185.1,343.5L185.6,343.4L186.1,343.3L186.6,343.2L187.1,343.1L187.6,343.0L188.1,343.0L188.2,342.9L188.6,342.9L189.1,342.8L189.6,342.8L190.1,342.7L190.6,342.7L191.1,342.6L191.6,342.6L192.1,342.5L192.6,342.5L193.1,342.4L193.6,342.4L194.1,342.3L194.6,342.3L195.1,342.3L195.6,342.2L196.1,342.2L196.6,342.1L197.1,342.1L197.6,342.1L198.1,342.1L198.6,342.0L199.1,342.0L199.6,342.0L200.1,342.0L200.4,342.0L200.6,342.0L201.1,342.0L201.6,342.0L202.1,342.0L202.6,342.0L203.1,342.1L203.6,342.1L204.1,342.1L204.6,342.2L205.1,342.2L205.6,342.2L206.1,342.3L206.6,342.3L207.1,342.4L207.6,342.4L208.1,342.5L208.6,342.5L209.1,342.6L209.6,342.6L210.1,342.7L210.6,342.7L211.1,342.8L211.6,342.8L212.1,342.9L212.6,342.9L212.7,342.9L213.1,343.0L213.6,343.1L214.1,343.2L214.6,343.2L215.1,343.3L215.6,343.4L216.1,343.5L216.6,343.6L217.1,343.7L217.6,343.8L218.1,343.9L218.6,344.0L219.1,344.1L219.6,344.2L220.1,344.3L220.6,344.4L221.1,344.5L221.6,344.7L222.1,344.8L222.5,344.9L222.6,344.9L223.1,345.1L223.6,345.4L224.1,345.6L224.6,345.8L225.1,346.1L225.6,346.4L226.1,346.7L226.6,347.0L227.1,347.3L227.6,347.6L228.1,347.9L228.6,348.2L229.1,348.6L229.6,348.9L229.9,349.1L230.1,349.3L230.6,349.7L231.1,350.2L231.6,350.7L232.1,351.2L232.6,351.7L233.1,352.3L233.6,352.8L234.1,353.4L234.6,353.9L235.1,354.5L235.6,355.0L236.1,355.5L236.6,355.9L237.1,356.3L237.2,356.4L237.6,356.7L238.1,356.9L238.6,357.2L239.1,357.5L239.6,357.7L240.1,358.0L240.6,358.2L241.1,358.4L241.6,358.7L242.1,358.9L242.1,358.9L242.6,359.1L243.1,359.2L243.6,359.4L244.1,359.6L244.6,359.7L245.1,359.9L245.6,360.0L246.1,360.2L246.6,360.3L247.1,360.5L247.6,360.6L248.1,360.8L248.6,360.9L249.1,361.0L249.6,361.2L250.1,361.3L250.6,361.5L251.1,361.6L251.6,361.7L252.0,361.8L252.1,361.9L252.6,362.0L253.1,362.1L253.6,362.3L254.1,362.4L254.6,362.5L255.1,362.6L255.6,362.8L256.1,362.9L256.6,363.0L257.1,363.1L257.6,363.3L258.1,363.4L258.6,363.5L259.1,363.6L259.6,363.8L260.1,363.9L260.6,364.0L261.1,364.1L261.6,364.2L261.8,364.3L262.1,364.4L262.6,364.5L263.1,364.6L263.6,364.7L264.1,364.9L264.6,365.0L265.1,365.1L265.6,365.3L266.1,365.4L266.6,365.5L267.1,365.6L267.6,365.8L268.1,365.9L268.6,366.0L269.1,366.1L269.6,366.3L270.1,366.4L270.6,366.5L271.1,366.6L271.6,366.8L272.1,366.9L272.6,367.0L273.1,367.1L273.6,367.3L274.1,367.4L274.6,367.5L275.1,367.6L275.6,367.8L276.1,367.9L276.5,368.0L276.6,368.0L277.1,368.1L277.6,368.2L278.1,368.4L278.6,368.5L279.1,368.6L279.6,368.7L280.1,368.8L280.6,368.9L281.1,369.1L281.6,369.2L282.1,369.3L282.6,369.4L283.1,369.5L283.6,369.6L284.1,369.8L284.6,369.9L285.1,370.0L285.6,370.1L286.1,370.2L286.6,370.4L287.1,370.5L287.6,370.6L288.1,370.7L288.6,370.8L289.1,370.9L289.6,371.1L290.0,371.2L290.1,371.2L290.6,371.3L291.1,371.4L291.6,371.6L292.1,371.7L292.6,371.8L293.1,371.9L293.6,372.1L294.1,372.2L294.6,372.3L295.1,372.4L295.6,372.6L296.1,372.7L296.6,372.8L297.1,372.9L297.6,373.1L298.1,373.2L298.6,373.3L299.1,373.4L299.6,373.6L299.8,373.6L300.1,373.7L300.6,373.8L301.1,373.9L301.6,374.1L302.1,374.2L302.6,374.4L303.1,374.5L303.6,374.6L304.1,374.8L304.6,374.9L305.1,375.1L305.6,375.2L306.1,375.4L306.6,375.5L307.1,375.7L307.6,375.8L308.1,375.9L308.6,376.1L309.1,376.2L309.6,376.3L310.1,376.4L310.6,376.6L311.1,376.7L311.6,376.8L312.1,376.9L312.6,377.0L313.1,377.1L313.6,377.2L314.1,377.2L314.5,377.3L314.6,377.3L315.1,377.3L315.6,377.4L316.1,377.4L316.6,377.4L317.1,377.5L317.6,377.5L318.1,377.5L318.6,377.6L319.1,377.6L319.6,377.6L320.1,377.6L320.6,377.7L321.1,377.7L321.6,377.7L322.1,377.7L322.6,377.8L323.1,377.8L323.6,377.8L324.1,377.8L324.4,377.8L324.6,377.8L325.1,377.8L325.6,377.7L326.1,377.7L326.6,377.7L327.1,377.7L327.6,377.6L328.1,377.6L328.6,377.6L329.1,377.5L329.6,377.5L330.1,377.4L330.6,377.4L331.1,377.3L331.6,377.3L332.1,377.2L332.6,377.2L333.1,377.1L333.6,377.1L334.1,377.1L334.2,377.1L334.6,377.0L335.1,377.0L335.6,376.9L336.1,376.9L336.6,376.8L337.1,376.8L337.6,376.7L338.1,376.6L338.6,376.6L339.1,376.5L339.6,376.4L340.1,376.4L340.6,376.3L341.1,376.3L341.6,376.2L342.1,376.1L342.6,376.1L343.1,376.0L343.6,376.0L344.1,375.9L344.6,375.9L345.1,375.8L345.6,375.8L346.1,375.7L346.6,375.7L347.1,375.7L347.6,375.6L348.1,375.6L348.6,375.6L348.9,375.6L349.1,375.6L349.6,375.6L350.1,375.7L350.6,375.7L351.1,375.7L351.6,375.8L352.1,375.9L352.6,375.9L353.1,376.0L353.6,376.1L354.1,376.1L354.6,376.2L355.1,376.3L355.6,376.4L356.1,376.4L356.6,376.5L357.1,376.6L357.6,376.7L358.1,376.8L358.6,376.9L359.1,377.0L359.6,377.0L360.1,377.1L360.6,377.2L361.1,377.3L361.2,377.3L361.6,377.4L362.1,377.5L362.6,377.6L363.1,377.7L363.6,377.8L364.1,377.9L364.6,378.0L365.1,378.1L365.6,378.2L366.1,378.3L366.6,378.4L367.1,378.5L367.6,378.6L368.1,378.7L368.6,378.8L369.1,378.8L369.6,378.9L370.1,379.0L370.6,379.0L371.0,379.0L371.1,379.0L371.6,379.0L372.1,379.0L372.6,378.9L373.1,378.9L373.6,378.9L374.1,378.8L374.6,378.8L375.1,378.7L375.6,378.6L376.1,378.6L376.6,378.5L377.1,378.5L377.6,378.4L378.1,378.3L378.6,378.3L379.1,378.2L379.6,378.1L380.1,378.1L380.6,378.0L381.1,378.0L381.6,377.9L382.1,377.9L382.6,377.8L383.1,377.8L383.3,377.8L383.6,377.8L384.1,377.8L384.6,377.7L385.1,377.7L385.6,377.7L386.1,377.7L386.6,377.7L387.1,377.7L387.6,377.7L388.1,377.6L388.6,377.6L389.1,377.6L389.6,377.6L390.1,377.6L390.6,377.6L391.1,377.6L391.6,377.6L392.1,377.6L392.6,377.6L393.1,377.5L393.1,377.5L393.6,377.6L394.1,377.7L394.6,377.8L395.1,377.9L395.6,378.0L396.1,378.1L396.6,378.3L397.1,378.4L397.6,378.6L398.1,378.8L398.6,379.0L399.1,379.1L399.6,379.3L400.1,379.5L400.6,379.7L401.1,379.9L401.6,380.1L402.1,380.2L402.6,380.4L402.9,380.5L403.1,380.6L403.6,380.7L404.1,380.9L404.6,381.1L405.1,381.2L405.6,381.4L406.1,381.6L406.6,381.8L407.1,381.9L407.6,382.1L408.1,382.3L408.6,382.5L409.1,382.7L409.6,382.8L410.1,383.0L410.6,383.2L411.1,383.4L411.6,383.5L412.1,383.7L412.6,383.9L412.7,383.9L413.1,384.1L413.6,384.2L414.1,384.4L414.6,384.6L415.1,384.7L415.6,384.9L416.1,385.0L416.6,385.2L417.1,385.4L417.6,385.5L418.1,385.7L418.6,385.8L419.1,386.0L419.6,386.1L420.1,386.3L420.6,386.5L421.1,386.6L421.6,386.8L422.1,386.9L422.6,387.1L423.1,387.3L423.6,387.4L424.1,387.6L424.6,387.8L425.1,388.0L425.6,388.1L426.1,388.3L426.6,388.5L427.1,388.7L427.4,388.8L427.6,388.9L428.1,389.1L428.6,389.4L429.1,389.6L429.6,389.8L430.1,390.1L430.6,390.3L431.1,390.6L431.6,390.8L432.1,391.1L432.6,391.3L433.1,391.6L433.6,391.8L434.1,392.1L434.6,392.4L435.1,392.6L435.6,392.9L436.1,393.2L436.6,393.5L437.1,393.7L437.6,394.0L438.1,394.3L438.6,394.6L439.1,394.9L439.6,395.2L439.7,395.2L440.1,395.5L440.6,395.8L441.1,396.1L441.6,396.4L442.1,396.7L442.6,397.1L443.1,397.4L443.6,397.7L444.1,398.0L444.6,398.4L445.1,398.7L445.6,399.1L446.1,399.4L446.6,399.8L447.1,400.1L447.6,400.5L448.1,400.8L448.6,401.2L449.1,401.5L449.5,401.8L449.6,401.9L450.1,402.3L450.6,402.7L451.1,403.1L451.6,403.5L452.1,403.9L452.6,404.3L453.1,404.7L453.6,405.2L454.1,405.6L454.6,406.0L455.1,406.4L455.6,406.9L456.1,407.3L456.6,407.7L456.9,408.0L457.1,408.2L457.6,408.7L458.1,409.2L458.6,409.7L459.1,410.2L459.6,410.7L460.1,411.2L460.6,411.6L461.1,412.0L461.6,412.3L461.8,412.4L462.1,412.5L462.6,412.5L463.1,412.6L463.6,412.7L464.1,412.8L464.6,412.8L465.1,412.9L465.5,412.9L465.6,412.9L466.1,412.9L466.6,412.9L467.1,412.9L467.6,412.9L468.1,412.9L468.6,412.9L469.1,412.9L469.6,412.9L470.1,412.9L470.6,412.9L471.1,412.9L471.6,412.9L472.1,412.9L472.6,412.9L473.1,412.9L473.6,412.9L474.1,412.9L474.6,412.9L475.1,412.9L475.6,412.9L476.1,412.9L476.6,412.9L477.1,412.9L477.6,412.9L478.1,412.9L478.6,412.9L479.1,412.9L479.6,412.9L480.1,412.9L480.6,412.9L481.1,412.9L481.6,412.9L482.1,412.9L482.6,412.9L483.1,412.9L483.6,412.9L484.1,412.9L484.6,412.9L485.1,412.9L485.6,412.9L486.1,412.9L486.6,412.9L487.1,412.9L487.6,412.9L488.1,412.9L488.6,412.9L489.1,412.9L489.6,412.9L490.1,412.9L490.6,412.9L491.1,412.9L491.6,412.9L492.1,412.9L492.6,412.9L493.1,412.9L493.6,412.9L494.1,412.9L494.6,412.9L495.1,412.9L495.6,412.9L496.1,412.9L496.6,412.9L497.1,412.9L497.6,412.9L498.1,412.9L498.6,412.9L499.1,412.9L499.6,412.9L500.1,412.9L500.6,412.9L501.1,412.9L501.6,412.9L502.1,412.9L502.6,412.9L503.1,412.9L503.6,412.9L504.1,412.9L504.6,412.9L505.1,412.9L505.6,412.9L506.1,412.9L506.6,412.9L507.1,412.9L507.6,412.9L508.1,412.9L508.6,412.9L509.1,412.9L509.6,412.9L510.1,412.9L510.6,412.9L511.1,412.9L511.6,412.9L512.1,412.9L512.6,412.9L513.1,412.9L513.6,412.9L514.1,412.9L514.6,412.9L515.1,412.9L515.6,412.9L516.1,412.9L516.6,412.9L517.1,412.9L517.6,412.9L518.1,412.9L518.6,412.9L519.1,412.9L519.6,412.9L520.1,412.9L520.6,412.9L521.1,412.9L521.6,412.9L522.1,412.9L522.6,412.9L523.1,412.9L523.6,412.9L524.1,412.9L524.6,412.9L525.1,412.9L525.6,412.9L526.1,412.9L526.6,412.9L527.1,412.9L527.6,412.9L528.1,412.9L528.6,412.9L529.1,412.9L529.6,412.9L530.1,412.9L530.6,412.9L531.1,412.9L531.6,412.9L532.1,412.9L532.6,412.9L533.1,412.9L533.6,412.9L534.1,412.9L534.6,412.9L535.1,412.9L535.6,412.9L536.1,412.9L536.6,412.9L537.1,412.9L537.6,412.9L538.1,412.9L538.6,412.9L539.1,412.9L539.6,412.9L540.1,412.9L540.6,412.9L541.1,412.9L541.6,412.9L542.1,412.9L542.6,412.9L543.1,412.9L543.6,412.9L544.1,412.9L544.6,412.9L545.1,412.9L545.6,412.9L546.1,412.9L546.6,412.9L547.1,412.9L547.6,412.9L548.1,412.9L548.6,412.9L549.1,412.9L549.6,412.9L550.1,412.9L550.6,412.9L551.1,412.9L551.6,412.9L552.1,412.9L552.6,412.9L553.1,412.9L553.6,412.9L554.1,412.9L554.6,412.9L555.1,412.9L555.6,412.9L556.1,412.9L556.6,412.9L557.1,412.9L557.6,412.9L558.1,412.9L558.6,412.9L559.1,412.9L559.6,412.9L560.1,412.9L560.6,412.9L561.1,412.9L561.6,412.9L562.1,412.9L562.6,412.9L563.1,412.9L563.6,412.9L563.6,412.9L564.1,412.9L564.6,412.9L565.1,412.9L565.6,412.9L566.1,412.9L566.6,412.9L567.1,412.9L567.6,412.9L568.1,412.9L568.6,412.9L569.1,412.9L569.6,412.9L570.1,412.9L570.6,412.9L571.1,412.9L571.6,412.9L572.1,412.9L572.6,412.9L573.1,412.9L573.6,412.9L574.1,412.9L574.6,412.9L575.1,412.9L575.6,412.9L576.1,412.9L576.6,412.9L577.1,412.9L577.6,412.9L578.1,412.9L578.6,412.9L579.1,412.9L579.6,412.9L580.1,412.9L580.6,412.9L581.1,412.9L581.6,412.9L582.1,412.9L582.6,412.9L583.1,412.9L583.6,412.9L584.1,412.9L584.6,412.9L585.1,412.9L585.6,412.9L586.1,412.9L586.6,412.9L587.1,412.9L587.6,412.9L588.1,412.9L588.6,412.9L589.1,412.9L589.6,412.9L590.1,412.9L590.6,412.9L591.1,412.9L591.6,412.9L592.1,412.9L592.6,412.9L593.1,412.9L593.6,412.9L594.1,412.9L594.6,412.9L595.1,412.9L595.6,412.9L596.1,412.9L596.6,412.9L597.1,412.9L597.6,412.9L598.1,412.9L598.6,412.9L599.1,412.9L599.6,412.9L600.1,412.9L600.6,412.9L601.1,412.9L601.6,412.9L602.1,412.9L602.6,412.9L603.1,412.9L603.6,412.9L604.1,412.9L604.6,412.9L605.1,412.9L605.6,412.9L606.1,412.9L606.6,412.9L607.1,412.9L607.6,412.9L608.1,412.9L608.6,412.9L609.1,412.9L609.6,412.9L610.1,412.9L610.6,412.9L611.1,412.9L611.6,412.9L612.1,412.9L612.6,412.9L613.1,412.9L613.6,412.9L614.1,412.9L614.6,412.9L615.1,412.9L615.6,412.9L616.1,412.9L616.6,412.9L617.1,412.9L617.6,412.9L618.1,412.9L618.6,412.9L619.1,412.9L619.6,412.9L620.1,412.9L620.6,412.9L621.1,412.9L621.6,412.9L622.1,412.9L622.6,412.9L623.1,412.9L623.6,412.9L623.7,412.9L624.1,412.8L624.6,412.8L625.1,412.7L625.6,412.5L626.1,412.4L626.6,412.2L627.1,412.0L627.6,411.8L628.1,411.7L628.6,411.4L629.1,411.2L629.6,411.0L629.9,410.9L630.1,410.8L630.6,410.5L631.1,410.2L631.6,409.9L632.1,409.5L632.6,409.2L633.1,408.8L633.6,408.4L634.1,408.0L634.6,407.6L635.1,407.2L635.6,406.8L636.1,406.4L636.6,406.0L637.1,405.6L637.2,405.5L637.6,405.2L638.1,404.8L638.6,404.4L639.1,404.0L639.6,403.6L640.1,403.2L640.6,402.8L641.1,402.4L641.6,402.0L642.1,401.5L642.6,401.1L643.1,400.7L643.6,400.3L644.1,399.8L644.6,399.4L644.6,399.4L645.1,398.9L645.6,398.5L646.1,398.0L646.6,397.6L647.1,397.1L647.6,396.6L648.1,396.1L648.6,395.7L649.1,395.2L649.6,394.7L649.8,394.5L650.1,394.2L650.6,393.7L651.1,393.3L651.6,392.8L652.1,392.3L652.6,391.8L653.1,391.4L653.6,390.9L654.1,390.4L654.6,390.0L655.1,389.5L655.6,389.0L656.1,388.5L656.6,388.0L657.1,387.5L657.6,387.0L658.1,386.4L658.6,385.9L659.1,385.3L659.6,384.7L659.6,384.7L660.1,384.0L660.6,383.3L661.1,382.5L661.6,381.7L662.1,380.8L662.6,380.0L663.1,379.1L663.6,378.2L664.1,377.4L664.6,376.5L665.1,375.6L665.6,374.7L666.1,373.9L666.6,373.1L667.0,372.4L667.1,372.2L667.6,371.5L668.1,370.7L668.6,369.9L669.1,369.2L669.6,368.4L670.1,367.6L670.6,366.9L671.1,366.1L671.6,365.4L672.1,364.7L672.6,363.9L673.1,363.2L673.6,362.5L674.1,361.7L674.4,361.3L674.6,361.0L675.1,360.3L675.6,359.6L676.1,359.0L676.6,358.3L677.1,357.6L677.6,356.9L678.1,356.3L678.6,355.6L679.1,354.9L679.6,354.3L680.1,353.6L680.6,353.0L681.1,352.3L681.6,351.7L681.7,351.5L682.1,351.1L682.6,350.4L683.1,349.8L683.6,349.2L684.1,348.5L684.6,347.9L685.1,347.2L685.6,346.6L686.1,346.0L686.6,345.4L687.1,344.9L687.6,344.3L688.1,343.8L688.6,343.4L689.1,342.9L689.1,342.9L689.6,342.7L690.1,342.4L690.6,342.2L691.0,342.0L691.1,341.9L691.6,341.6L692.1,341.2L692.6,340.8L693.1,340.4L693.6,340.0L694.1,339.7L694.6,339.3L695.1,339.1L695.5,339.0L695.6,339.0L696.1,339.3L696.6,339.6L697.1,340.1L697.6,340.7L698.1,341.3L698.6,341.9L699.1,342.5L699.6,343.1L700.0,343.5L700.1,343.6L700.6,344.1L701.1,344.6L701.6,345.1L702.1,345.6L702.6,346.1L703.1,346.6L703.6,347.1L704.1,347.7L704.6,348.2L705.1,348.7L705.6,349.2L706.1,349.6L706.6,350.1L707.1,350.6L707.5,351.0L707.6,351.1L708.1,351.5L708.6,352.0L709.1,352.4L709.6,352.8L710.1,353.2L710.6,353.7L711.1,354.1L711.6,354.5L712.1,354.9L712.6,355.3L713.1,355.7L713.6,356.1L714.1,356.5L714.6,356.9L715.0,357.2L715.1,357.3L715.6,357.7L716.1,358.0L716.6,358.4L717.1,358.8L717.6,359.1L718.1,359.5L718.6,359.8L719.1,360.1L719.6,360.5L720.1,360.8L720.6,361.2L721.1,361.5L721.6,361.9L722.1,362.2L722.5,362.5L722.6,362.6L723.1,362.9L723.6,363.3L724.1,363.6L724.6,364.0L725.1,364.3L725.6,364.7L726.1,365.0L726.6,365.4L727.1,365.7L727.6,366.1L728.1,366.4L728.6,366.8L729.1,367.1L729.6,367.5L730.0,367.7L730.1,367.8L730.6,368.2L731.1,368.6L731.6,369.0L732.1,369.4L732.6,369.7L733.1,370.1L733.6,370.4L734.1,370.6L734.5,370.7L734.6,370.8L735.1,370.8L735.6,370.8L736.1,370.9L736.6,370.9L737.1,370.9L737.6,371.0L738.1,371.0L738.6,371.0L739.1,371.0L739.6,371.0L740.1,371.0L740.5,371.0L740.6,371.0L741.1,371.0L741.6,371.0L742.1,371.0L742.6,371.0L743.1,371.0L743.6,370.9L744.1,370.9L744.6,370.9L745.1,370.8L745.6,370.8L746.1,370.8L746.6,370.7L747.1,370.7L747.6,370.7L748.1,370.6L748.6,370.6L749.1,370.6L749.6,370.5L750.1,370.5L750.6,370.4L751.1,370.4L751.6,370.4L752.1,370.3L752.5,370.3L752.6,370.3L753.1,370.2L753.6,370.2L754.1,370.2L754.6,370.1L755.1,370.1L755.6,370.0L756.1,370.0L756.6,370.0L757.1,369.9L757.6,369.9L758.1,369.8L758.6,369.8L759.1,369.7L759.6,369.7L760.1,369.6L760.6,369.6L761.1,369.5L761.6,369.4L762.1,369.4L762.6,369.3L763.0,369.2L763.1,369.2L763.6,369.1L764.1,369.0L764.6,368.8L765.1,368.6L765.6,368.5L766.1,368.3L766.6,368.1L767.1,367.9L767.6,367.7L768.1,367.4L768.6,367.2L769.0,367.0L769.1,366.9L769.6,366.6L770.1,366.3L770.6,366.0L771.1,365.6L771.6,365.2L772.1,364.7L772.6,364.2L772.7,364.0L773.1,363.3L773.6,362.1L774.1,360.8L774.6,359.2L775.0,358.0L775.1,357.7L775.6,355.9L776.1,353.9L776.5,352.0L776.6,351.4L777.1,347.6L777.2,346.5L777.6,344.7L778.1,342.4L778.6,340.3L779.1,338.0L779.2,337.5L779.6,335.2L780.1,332.1L780.6,329.1L781.0,327.0L781.1,326.7L781.6,324.9L782.1,323.3L782.6,321.9L783.1,320.6L783.2,320.2L783.6,319.7L784.1,318.9L784.6,318.2L785.1,317.6L785.6,316.9L786.1,316.3L786.6,315.6L787.0,315.0L787.1,314.8L787.6,313.9L788.1,313.0L788.6,312.0L789.1,311.0L789.6,309.9L790.0,309.0L790.1,308.8L790.6,307.4L791.1,305.9L791.6,304.4L792.1,302.9L792.6,301.3L793.0,300.0L793.1,299.7L793.6,298.0L794.1,296.2L794.6,294.5L795.1,292.7L795.6,290.9L796.0,289.5L796.1,289.2L796.6,287.6L797.1,286.1L797.6,284.6L798.1,283.0L798.6,281.0L799.0,279.0L799.1,278.1L799.6,270.9L800.0,266.0L800.1,265.7L800.6,264.3L801.1,263.2L801.6,262.3L802.1,261.5L802.6,260.7L803.0,260.0L803.1,259.8L803.6,259.0L804.1,258.1L804.6,257.3L805.1,256.5L805.6,255.7L806.1,254.9L806.6,254.2L806.7,254.0L807.1,253.6L807.6,253.0L808.1,252.5L808.6,252.0L809.1,251.5L809.6,251.0L810.1,250.5L810.6,250.1L811.1,249.6L811.2,249.5L811.6,249.3L812.1,248.9L812.6,248.6L813.1,248.2L813.6,247.9L814.1,247.6L814.6,247.4L815.0,247.2L815.1,247.2L815.6,247.1L816.1,247.0L816.6,246.9L817.1,246.9L817.6,246.8L818.0,246.8L818.1,246.8L818.6,247.2L819.1,247.7L819.6,248.3L820.1,249.0L820.6,249.7L821.0,250.2L821.1,250.4L821.6,251.0L822.1,251.7L822.6,252.4L823.1,253.1L823.6,253.6L824.0,254.0L824.1,254.0L824.6,254.3L825.1,254.6L825.6,254.8L826.1,255.1L826.6,255.3L827.1,255.5L827.6,255.7L828.1,255.8L828.6,256.0L829.1,256.1L829.6,256.2L830.0,256.2L830.1,256.2L830.6,256.2L831.1,256.1L831.6,256.1L832.1,256.0L832.6,255.9L833.1,255.8L833.6,255.7L834.1,255.6L834.6,255.5L835.1,255.5L835.2,255.5L835.6,255.8L836.1,256.7L836.6,257.8L837.1,259.1L837.5,260.0L837.6,260.2L838.1,261.4L838.6,262.7L839.1,264.0L839.6,265.3L840.1,266.5L840.5,267.5L840.6,267.7L841.1,268.7L841.6,269.6L842.1,270.4L842.6,271.3L843.1,272.2L843.6,273.3L844.1,274.6L844.2,275.0L844.6,276.8L845.0,279.0L845.1,279.3L845.6,280.5L846.1,281.7L846.6,282.7L847.1,283.5L847.6,284.4L848.0,285.0L848.1,285.1L848.6,285.8L849.1,286.4L849.6,287.0L850.1,287.6L850.6,288.2L851.1,288.6L851.6,289.0L852.1,289.3L852.5,289.5L852.6,289.5L853.1,289.0L853.6,288.4L854.1,287.6L854.6,286.7L855.1,285.7L855.5,285.0L855.6,284.8L856.1,283.8L856.6,282.8L857.1,281.6L857.6,280.5L858.1,279.3L858.2,279.0L858.6,277.9L859.1,276.3L859.6,274.7L860.0,273.5L860.1,273.3L860.6,272.0L861.1,270.7L861.6,269.5L862.1,268.3L862.6,267.1L863.0,266.0L863.1,265.7L863.6,264.2L864.1,262.7L864.6,261.1L865.1,259.5L865.6,258.1L866.0,257.0L866.1,256.8L866.6,255.8L867.1,254.9L867.6,254.0L868.1,253.1L868.6,252.3L869.0,251.7L869.1,251.6L869.6,251.0L870.1,250.5L870.6,249.9L871.1,249.4L871.6,248.9L872.1,248.4L872.6,248.0L873.1,247.6L873.5,247.2L873.6,247.2L874.1,246.9L874.6,246.6L875.1,246.3L875.6,246.1L876.1,245.8L876.6,245.6L877.1,245.3L877.6,245.1L878.0,245.0L878.1,245.0L878.6,244.8L879.1,244.7L879.6,244.6L880.1,244.5L880.6,244.4L881.1,244.3L881.6,244.3L881.7,244.2L882.1,244.3L882.6,244.5L883.1,244.7L883.6,245.0L884.1,245.3L884.6,245.6L885.1,245.9L885.5,246.2L885.6,246.3L886.1,246.7L886.6,247.2L887.1,247.8L887.6,248.4L888.1,249.0L888.5,249.5L888.6,249.6L889.1,250.4L889.6,251.2L890.1,252.0L890.6,252.8L891.1,253.7L891.6,254.6L892.1,255.4L892.6,256.3L893.0,257.0L893.1,257.2L893.6,258.0L894.1,258.9L894.6,259.8L895.1,260.7L895.6,261.6L896.1,262.5L896.6,263.4L897.1,264.3L897.6,265.2L898.1,266.0L898.6,266.9L899.0,267.5L899.1,267.6L899.6,268.3L900.1,268.9L900.6,269.5L901.1,270.1L901.6,270.7L902.1,271.2L902.6,271.8L903.1,272.4L903.6,273.0L904.1,273.7L904.6,274.4L905.0,275.0L905.1,275.2L905.6,276.3L906.1,277.4L906.6,278.6L906.8,279.0L907.1,279.5L907.6,280.3L908.1,281.0L908.6,281.7L909.1,282.4L909.6,283.1L910.1,283.7L910.6,284.4L911.0,285.0L911.1,285.1L911.6,285.9L912.1,286.6L912.6,287.4L913.1,288.1L913.6,288.9L914.1,289.7L914.6,290.4L915.1,291.2L915.6,291.9L916.1,292.7L916.6,293.4L917.0,294.0L917.1,294.1L917.6,294.8L918.1,295.6L918.6,296.3L919.1,297.0L919.6,297.7L920.1,298.4L920.6,299.0L921.1,299.6L921.5,300.0L921.6,300.1L922.1,300.4L922.6,300.8L923.1,301.2L923.6,301.5L924.1,301.8L924.6,302.1L925.1,302.3L925.6,302.6L926.0,302.7L926.1,302.7L926.6,302.8L927.1,302.9L927.6,303.0L928.1,303.1L928.6,303.1L929.1,303.2L929.6,303.3L930.1,303.3L930.6,303.4L931.1,303.4L931.6,303.4L932.0,303.4L932.1,303.4L932.6,303.4L933.1,303.3L933.6,303.1L934.1,303.0L934.6,302.8L935.1,302.5L935.6,302.3L935.7,302.2L936.1,301.9L936.6,301.2L937.1,300.3L937.6,299.4L938.1,298.4L938.6,297.3L939.1,296.3L939.5,295.5L939.6,295.3L940.1,294.3L940.6,293.4L941.1,292.4L941.6,291.4L942.1,290.4L942.6,289.4L943.1,288.3L943.6,287.3L944.0,286.5L944.1,286.3L944.6,285.2L945.1,284.2L945.6,283.1L946.1,282.0L946.6,280.9L947.1,279.9L947.5,279.0L947.6,278.9L948.1,277.9L948.6,277.0L949.1,276.1L949.6,275.1L950.1,274.2L950.5,273.5L950.6,273.3L951.1,272.4L951.6,271.4L952.1,270.5L952.6,269.6L953.1,268.8L953.5,268.2L953.6,268.2L954.1,267.7L954.6,267.2L955.1,266.8L955.6,266.5L956.1,266.3L956.2,266.3L956.6,266.5L957.1,266.9L957.6,267.4L958.1,268.1L958.6,268.8L958.7,269.0L959.1,269.8L959.6,271.3L960.1,273.1L960.6,275.0L961.0,276.5L961.1,276.9L961.6,278.9L961.9,280.5L962.1,282.7L962.5,288.0L962.6,288.5L963.1,291.1L963.6,293.1L964.1,294.9L964.6,296.5L964.7,297.0L965.1,298.0L965.6,299.3L966.1,300.6L966.6,301.8L967.1,303.0L967.6,304.1L968.1,305.2L968.5,306.0L968.6,306.2L969.1,307.1L969.6,308.0L970.1,308.8L970.6,309.6L971.1,310.4L971.6,311.1L972.1,311.8L972.2,312.0L972.6,312.3L973.1,312.8L973.6,313.3L974.1,313.6L974.5,313.8L974.6,313.7L975.1,313.0L975.6,312.0L976.1,310.7L976.6,309.4L976.7,309.0L977.1,308.0L977.6,306.3L978.1,304.6L978.6,302.9L979.0,301.5L979.1,301.2L979.6,299.5L980.1,297.7L980.6,296.0L981.1,294.5L981.2,294.0L981.6,293.1L982.1,291.7L982.6,290.5L983.1,289.4L983.5,288.7L983.6,288.7L984.1,288.3L984.6,288.0L985.1,287.7L985.6,287.5L986.1,287.3L986.5,287.2L986.6,287.3L987.1,287.3L987.6,287.3L988.1,287.3L988.6,287.4L989.1,287.4L989.6,287.5L990.1,287.6L990.5,287.7" stroke="#56B4E9" stroke-width="1.15" fill="none" stroke-linejoin="round"/>
<path d="M98.6,312.3L99.1,312.6L99.6,313.0L100.1,313.4L100.6,313.8L101.1,314.2L101.6,314.6L102.1,315.0L102.6,315.4L103.1,315.8L103.6,316.2L104.1,316.6L104.6,317.1L104.7,317.2L105.1,317.5L105.6,318.0L106.1,318.5L106.6,319.1L107.1,319.6L107.6,320.1L108.1,320.7L108.6,321.2L109.1,321.8L109.6,322.3M130.6,331.8L131.1,332.0L131.6,332.2L132.1,332.3L132.6,332.5L133.1,332.7L133.6,332.9L134.1,333.1L134.2,333.1L134.6,333.3L135.1,333.5L135.6,333.7L136.1,333.9L136.6,334.1L137.1,334.3L137.6,334.6L138.1,334.8L138.6,335.0L139.1,335.2L139.6,335.4L140.1,335.6L140.6,335.8L141.1,336.1L141.6,336.3L142.1,336.5L142.6,336.7M163.6,346.6L163.6,346.6L164.1,346.6L164.6,346.6L165.1,346.6L165.6,346.6L166.1,346.5L166.6,346.5L167.1,346.5L167.6,346.4L168.1,346.4L168.6,346.4L169.1,346.3L169.6,346.3L170.1,346.2L170.6,346.2L171.1,346.1L171.6,346.1L172.1,346.0L172.6,346.0L173.1,345.9L173.6,345.9L174.1,345.8L174.6,345.8L175.1,345.7L175.6,345.7L175.9,345.6L176.1,345.6L176.6,345.5L177.1,345.4L177.6,345.3L178.1,345.2M200.6,342.0L201.1,342.0L201.6,342.0L202.1,342.0L202.6,342.0L203.1,342.1L203.6,342.1L204.1,342.1L204.6,342.2L205.1,342.2L205.6,342.2L206.1,342.3L206.6,342.3L207.1,342.4L207.6,342.4L208.1,342.5L208.6,342.5L209.1,342.6L209.6,342.6L210.1,342.7L210.6,342.7L211.1,342.8L211.6,342.8L212.1,342.9L212.6,342.9L212.7,342.9L213.1,343.0L213.6,343.1L214.1,343.2L214.6,343.2L215.1,343.3L215.6,343.4L216.1,343.5L216.6,343.6L217.1,343.7L217.6,343.8L218.1,343.9L218.6,344.0L219.1,344.1L219.6,344.2L220.1,344.3L220.6,344.4L221.1,344.5L221.6,344.7L222.1,344.8L222.5,344.9M239.6,357.7L240.1,358.0L240.6,358.2L241.1,358.4L241.6,358.7L242.1,358.9L242.1,358.9L242.6,359.1L243.1,359.2L243.6,359.4L244.1,359.6L244.6,359.7L245.1,359.9L245.6,360.0L246.1,360.2L246.6,360.3L247.1,360.5L247.6,360.6L248.1,360.8L248.6,360.9L249.1,361.0L249.6,361.2L250.1,361.3L250.6,361.5L251.1,361.6L251.6,361.7L252.0,361.8L252.1,361.9L252.6,362.0L253.1,362.1L253.6,362.3L254.1,362.4L254.6,362.5M277.6,368.2L278.1,368.4L278.6,368.5L279.1,368.6L279.6,368.7L280.1,368.8L280.6,368.9L281.1,369.1L281.6,369.2L282.1,369.3L282.6,369.4L283.1,369.5L283.6,369.6L284.1,369.8L284.6,369.9L285.1,370.0L285.6,370.1L286.1,370.2L286.6,370.4L287.1,370.5L287.6,370.6L288.1,370.7L288.6,370.8L289.1,370.9L289.6,371.1L290.0,371.2L290.1,371.2L290.6,371.3L291.1,371.4L291.6,371.6L292.1,371.7L292.6,371.8L293.1,371.9L293.6,372.1M314.5,377.3L314.6,377.3L315.1,377.3L315.6,377.4L316.1,377.4L316.6,377.4L317.1,377.5L317.6,377.5L318.1,377.5L318.6,377.6L319.1,377.6L319.6,377.6L320.1,377.6L320.6,377.7L321.1,377.7L321.6,377.7L322.1,377.7L322.6,377.8L323.1,377.8L323.6,377.8L324.1,377.8L324.4,377.8L324.6,377.8L325.1,377.8L325.6,377.7L326.1,377.7L326.6,377.7L327.1,377.7L327.6,377.6L328.1,377.6L328.6,377.6L329.1,377.5L329.6,377.5L330.1,377.4L330.6,377.4L331.1,377.3L331.6,377.3L332.1,377.2L332.6,377.2L333.1,377.1L333.6,377.1L334.1,377.1L334.2,377.1M356.1,376.4L356.6,376.5L357.1,376.6L357.6,376.7L358.1,376.8L358.6,376.9L359.1,377.0L359.6,377.0L360.1,377.1L360.6,377.2L361.1,377.3L361.2,377.3L361.6,377.4L362.1,377.5L362.6,377.6L363.1,377.7L363.6,377.8L364.1,377.9L364.6,378.0L365.1,378.1L365.6,378.2L366.1,378.3L366.6,378.4L367.1,378.5L367.6,378.6L368.1,378.7L368.6,378.8L369.1,378.8L369.6,378.9L370.1,379.0L370.6,379.0L371.0,379.0M394.1,377.7L394.6,377.8L395.1,377.9L395.6,378.0L396.1,378.1L396.6,378.3L397.1,378.4L397.6,378.6L398.1,378.8L398.6,379.0L399.1,379.1L399.6,379.3L400.1,379.5L400.6,379.7L401.1,379.9L401.6,380.1L402.1,380.2L402.6,380.4L402.9,380.5L403.1,380.6L403.6,380.7L404.1,380.9L404.6,381.1L405.1,381.2L405.6,381.4L406.1,381.6L406.6,381.8L407.1,381.9L407.6,382.1M430.1,390.1L430.6,390.3L431.1,390.6L431.6,390.8L432.1,391.1L432.6,391.3L433.1,391.6L433.6,391.8L434.1,392.1L434.6,392.4L435.1,392.6L435.6,392.9L436.1,393.2L436.6,393.5L437.1,393.7L437.6,394.0L438.1,394.3L438.6,394.6L439.1,394.9L439.6,395.2L439.7,395.2L440.1,395.5L440.6,395.8L441.1,396.1L441.6,396.4L442.1,396.7L442.6,397.1L443.1,397.4L443.6,397.7M461.8,412.4L462.1,412.5L462.6,412.5L463.1,412.6L463.6,412.7L464.1,412.8L464.6,412.8L465.1,412.9L465.5,412.9L465.6,412.9L466.1,412.9L466.6,412.9L467.1,412.9L467.6,412.9L468.1,412.9L468.6,412.9L469.1,412.9L469.6,412.9L470.1,412.9L470.6,412.9L471.1,412.9L471.6,412.9L472.1,412.9L472.6,412.9L473.1,412.9L473.6,412.9L474.1,412.9L474.6,412.9L475.1,412.9L475.6,412.9L476.1,412.9M499.1,412.9L499.6,412.9L500.1,412.9L500.6,412.9L501.1,412.9L501.6,412.9L502.1,412.9L502.6,412.9L503.1,412.9L503.6,412.9L504.1,412.9L504.6,412.9L505.1,412.9L505.6,412.9L506.1,412.9L506.6,412.9L507.1,412.9L507.6,412.9L508.1,412.9L508.6,412.9L509.1,412.9L509.6,412.9L510.1,412.9L510.6,412.9L511.1,412.9L511.6,412.9L512.1,412.9L512.6,412.9L513.1,412.9L513.6,412.9L514.1,412.9M537.1,412.9L537.6,412.9L538.1,412.9L538.6,412.9L539.1,412.9L539.6,412.9L540.1,412.9L540.6,412.9L541.1,412.9L541.6,412.9L542.1,412.9L542.6,412.9L543.1,412.9L543.6,412.9L544.1,412.9L544.6,412.9L545.1,412.9L545.6,412.9L546.1,412.9L546.6,412.9L547.1,412.9L547.6,412.9L548.1,412.9L548.6,412.9L549.1,412.9L549.6,412.9L550.1,412.9L550.6,412.9L551.1,412.9L551.6,412.9L552.1,412.9L552.6,412.9L553.1,412.9L553.6,412.9L554.1,412.9L554.6,412.9L555.1,412.9L555.6,412.9L556.1,412.9L556.6,412.9M579.1,412.9L579.6,412.9L580.1,412.9L580.6,412.9L581.1,412.9L581.6,412.9L582.1,412.9L582.6,412.9L583.1,412.9L583.6,412.9L584.1,412.9L584.6,412.9L585.1,412.9L585.6,412.9L586.1,412.9L586.6,412.9L587.1,412.9L587.6,412.9L588.1,412.9L588.6,412.9L589.1,412.9L589.6,412.9L590.1,412.9L590.6,412.9L591.1,412.9L591.6,412.9L592.1,412.9L592.6,412.9L593.1,412.9L593.6,412.9L594.1,412.9M617.1,412.9L617.6,412.9L618.1,412.9L618.6,412.9L619.1,412.9L619.6,412.9L620.1,412.9L620.6,412.9L621.1,412.9L621.6,412.9L622.1,412.9L622.6,412.9L623.1,412.9L623.6,412.9L623.7,412.9L624.1,412.8L624.6,412.8L625.1,412.7L625.6,412.5L626.1,412.4L626.6,412.2L627.1,412.0L627.6,411.8L628.1,411.7L628.6,411.4L629.1,411.2L629.6,411.0L629.9,410.9L630.1,410.8L630.6,410.5L631.1,410.2M649.6,394.7L649.8,394.5L650.1,394.2L650.6,393.7L651.1,393.3L651.6,392.8L652.1,392.3L652.6,391.8L653.1,391.4L653.6,390.9L654.1,390.4L654.6,390.0L655.1,389.5L655.6,389.0L656.1,388.5L656.6,388.0L657.1,387.5L657.6,387.0L658.1,386.4L658.6,385.9L659.1,385.3L659.6,384.7L659.6,384.7L660.1,384.0L660.6,383.3L661.1,382.5L661.6,381.7L662.1,380.8L662.6,380.0L663.1,379.1M673.6,362.5L674.1,361.7L674.4,361.3L674.6,361.0L675.1,360.3L675.6,359.6L676.1,359.0L676.6,358.3L677.1,357.6L677.6,356.9L678.1,356.3L678.6,355.6L679.1,354.9L679.6,354.3L680.1,353.6L680.6,353.0L681.1,352.3L681.6,351.7L681.7,351.5L682.1,351.1L682.6,350.4L683.1,349.8L683.6,349.2M695.1,339.1L695.5,339.0L695.6,339.0L696.1,339.3L696.6,339.6L697.1,340.1L697.6,340.7L698.1,341.3L698.6,341.9L699.1,342.5L699.6,343.1L700.0,343.5L700.1,343.6L700.6,344.1L701.1,344.6L701.6,345.1L702.1,345.6L702.6,346.1L703.1,346.6L703.6,347.1L704.1,347.7L704.6,348.2L705.1,348.7L705.6,349.2L706.1,349.6L706.6,350.1L707.1,350.6L707.5,351.0L707.6,351.1L708.1,351.5L708.6,352.0L709.1,352.4L709.6,352.8L710.1,353.2M728.1,366.4L728.6,366.8L729.1,367.1L729.6,367.5L730.0,367.7L730.1,367.8L730.6,368.2L731.1,368.6L731.6,369.0L732.1,369.4L732.6,369.7L733.1,370.1L733.6,370.4L734.1,370.6L734.5,370.7L734.6,370.8L735.1,370.8L735.6,370.8L736.1,370.9L736.6,370.9L737.1,370.9L737.6,371.0L738.1,371.0L738.6,371.0L739.1,371.0L739.6,371.0L740.1,371.0L740.5,371.0L740.6,371.0M764.1,369.0L764.6,368.8L765.1,368.6L765.6,368.5L766.1,368.3L766.6,368.1L767.1,367.9L767.6,367.7L768.1,367.4L768.6,367.2L769.0,367.0L769.1,366.9L769.6,366.6L770.1,366.3L770.6,366.0L771.1,365.6L771.6,365.2L772.1,364.7L772.6,364.2L772.7,364.0L773.1,363.3L773.6,362.1L774.1,360.8L774.6,359.2M779.1,338.0L779.2,337.5L779.6,335.2L780.1,332.1L780.6,329.1L781.0,327.0L781.1,326.7L781.6,324.9L782.1,323.3M792.1,302.9L792.6,301.3L793.0,300.0L793.1,299.7L793.6,298.0L794.1,296.2L794.6,294.5L795.1,292.7L795.6,290.9L796.0,289.5M802.6,260.7L803.0,260.0L803.1,259.8L803.6,259.0L804.1,258.1L804.6,257.3L805.1,256.5L805.6,255.7L806.1,254.9L806.6,254.2L806.7,254.0L807.1,253.6L807.6,253.0M824.6,254.3L825.1,254.6L825.6,254.8L826.1,255.1L826.6,255.3L827.1,255.5L827.6,255.7L828.1,255.8L828.6,256.0L829.1,256.1L829.6,256.2L830.0,256.2L830.1,256.2L830.6,256.2L831.1,256.1L831.6,256.1L832.1,256.0L832.6,255.9L833.1,255.8L833.6,255.7L834.1,255.6L834.6,255.5L835.1,255.5L835.2,255.5L835.6,255.8L836.1,256.7M845.0,279.0L845.1,279.3L845.6,280.5L846.1,281.7L846.6,282.7L847.1,283.5L847.6,284.4L848.0,285.0L848.1,285.1L848.6,285.8L849.1,286.4L849.6,287.0L850.1,287.6L850.6,288.2L851.1,288.6L851.6,289.0L852.1,289.3L852.5,289.5L852.6,289.5L853.1,289.0M862.6,267.1L863.0,266.0L863.1,265.7L863.6,264.2L864.1,262.7L864.6,261.1L865.1,259.5L865.6,258.1L866.0,257.0L866.1,256.8L866.6,255.8L867.1,254.9L867.6,254.0L868.1,253.1L868.6,252.3M874.1,246.9L874.6,246.6L875.1,246.3L875.6,246.1L876.1,245.8L876.6,245.6L877.1,245.3L877.6,245.1L878.0,245.0L878.1,245.0L878.6,244.8L879.1,244.7L879.6,244.6L880.1,244.5L880.6,244.4L881.1,244.3L881.6,244.3L881.7,244.2L882.1,244.3L882.6,244.5L883.1,244.7L883.6,245.0L884.1,245.3L884.6,245.6L885.1,245.9L885.5,246.2L885.6,246.3L886.1,246.7L886.6,247.2L887.1,247.8L887.6,248.4M899.6,268.3L900.1,268.9L900.6,269.5L901.1,270.1L901.6,270.7L902.1,271.2L902.6,271.8L903.1,272.4L903.6,273.0L904.1,273.7L904.6,274.4L905.0,275.0L905.1,275.2L905.6,276.3L906.1,277.4L906.6,278.6L906.8,279.0L907.1,279.5L907.6,280.3L908.1,281.0M920.6,299.0L921.1,299.6L921.5,300.0L921.6,300.1L922.1,300.4L922.6,300.8L923.1,301.2L923.6,301.5L924.1,301.8L924.6,302.1L925.1,302.3L925.6,302.6L926.0,302.7L926.1,302.7L926.6,302.8L927.1,302.9L927.6,303.0L928.1,303.1L928.6,303.1L929.1,303.2L929.6,303.3L930.1,303.3L930.6,303.4L931.1,303.4L931.6,303.4L932.0,303.4L932.1,303.4L932.6,303.4L933.1,303.3L933.6,303.1L934.1,303.0L934.6,302.8M945.6,283.1L946.1,282.0L946.6,280.9L947.1,279.9L947.5,279.0L947.6,278.9L948.1,277.9L948.6,277.0L949.1,276.1L949.6,275.1L950.1,274.2L950.5,273.5L950.6,273.3L951.1,272.4L951.6,271.4L952.1,270.5L952.6,269.6M962.1,282.7L962.5,288.0L962.6,288.5L963.1,291.1L963.6,293.1L964.1,294.9M976.1,310.7L976.6,309.4L976.7,309.0L977.1,308.0L977.6,306.3L978.1,304.6L978.6,302.9L979.0,301.5L979.1,301.2L979.6,299.5L980.1,297.7L980.6,296.0M985.1,287.7L985.6,287.5L986.1,287.3L986.5,287.2L986.6,287.3L987.1,287.3L987.6,287.3L988.1,287.3L988.6,287.4L989.1,287.4L989.6,287.5L990.1,287.6L990.5,287.7" stroke="#56B4E9" stroke-width="4" fill="none" stroke-linejoin="round"/>
<path d="M98.6,345.9L99.1,346.0L99.6,346.2L100.1,346.3L100.6,346.5L101.1,346.6L101.6,346.7L102.1,346.9L102.6,347.0L103.1,347.2L103.6,347.3L104.1,347.5L104.6,347.6L105.1,347.7L105.6,347.9L106.1,348.0L106.6,348.2L107.1,348.3L107.2,348.3L107.6,348.5L108.1,348.6L108.6,348.8L109.1,348.9L109.6,349.1L110.1,349.3L110.6,349.5L111.1,349.6L111.6,349.8L112.1,350.0L112.6,350.1L113.1,350.2L113.6,350.4L114.1,350.5L114.6,350.6L115.1,350.7L115.6,350.8L115.8,350.8L116.1,350.7L116.6,350.6L117.1,350.4L117.6,350.2L118.1,350.0L118.6,349.8L119.1,349.5L119.6,349.3L120.1,349.0L120.6,348.7L121.1,348.4L121.6,348.1L122.1,347.8L122.6,347.5L123.1,347.3L123.6,347.0L124.1,346.8L124.4,346.6L124.6,346.5L125.1,346.3L125.6,346.0L126.1,345.8L126.6,345.5L127.1,345.3L127.6,345.0L128.1,344.8L128.6,344.5L129.1,344.3L129.6,344.0L130.1,343.8L130.6,343.6L131.1,343.4L131.6,343.3L132.1,343.1L132.6,343.0L132.9,342.9L133.1,342.9L133.6,342.9L134.1,342.9L134.6,342.9L135.1,342.9L135.6,342.9L136.1,342.9L136.6,342.9L137.1,342.9L137.6,342.9L138.1,342.9L138.6,342.9L139.1,342.9L139.1,342.9L139.6,343.1L140.1,343.4L140.6,343.7L141.1,344.1L141.6,344.5L142.1,344.9L142.6,345.3L143.1,345.8L143.6,346.3L144.1,346.8L144.6,347.3L145.1,347.7L145.2,347.9L145.6,348.3L146.1,348.9L146.6,349.6L147.1,350.2L147.6,350.9L148.1,351.6L148.6,352.4L149.1,353.1L149.6,353.8L150.1,354.6L150.6,355.3L151.1,356.1L151.3,356.4L151.6,356.8L152.1,357.6L152.6,358.5L153.1,359.3L153.6,360.2L154.1,361.0L154.6,361.9L155.1,362.8L155.6,363.6L156.1,364.5L156.6,365.3L157.1,366.2L157.6,367.0L158.1,367.8L158.6,368.5L158.7,368.7L159.1,369.2L159.6,369.8L160.1,370.5L160.6,371.1L161.1,371.7L161.6,372.4L162.1,373.0L162.6,373.6L163.1,374.2L163.6,374.7L164.1,375.3L164.6,375.8L165.1,376.3L165.6,376.8L166.1,377.3L166.1,377.3L166.6,377.7L167.1,378.0L167.6,378.3L168.1,378.7L168.6,379.0L169.1,379.3L169.6,379.6L170.1,379.9L170.6,380.2L171.1,380.5L171.6,380.8L172.1,381.1L172.6,381.3L173.1,381.6L173.6,381.8L174.1,382.0L174.6,382.2L174.7,382.2L175.1,382.3L175.6,382.4L176.1,382.5L176.6,382.6L177.1,382.7L177.6,382.7L178.1,382.8L178.6,382.9L179.1,383.0L179.6,383.1L180.1,383.1L180.6,383.2L181.1,383.3L181.6,383.3L182.1,383.4L182.6,383.4L183.1,383.4L183.3,383.4L183.6,383.4L184.1,383.4L184.6,383.4L185.1,383.4L185.6,383.4L186.1,383.3L186.6,383.3L187.1,383.3L187.6,383.3L188.1,383.2L188.6,383.2L189.1,383.2L189.6,383.2L190.1,383.1L190.6,383.1L191.1,383.1L191.6,383.0L192.1,383.0L192.6,383.0L193.1,382.9L193.1,382.9L193.6,382.9L194.1,382.9L194.6,382.8L195.1,382.8L195.6,382.8L196.1,382.7L196.6,382.7L197.1,382.7L197.6,382.6L198.1,382.6L198.6,382.6L199.1,382.5L199.6,382.5L200.1,382.4L200.6,382.4L201.1,382.4L201.6,382.3L202.1,382.3L202.6,382.2L202.9,382.2L203.1,382.2L203.6,382.1L204.1,382.1L204.6,382.0L205.1,382.0L205.6,381.9L206.1,381.9L206.6,381.8L207.1,381.7L207.6,381.7L208.1,381.6L208.6,381.6L209.1,381.5L209.6,381.4L210.1,381.4L210.6,381.3L211.1,381.2L211.6,381.2L212.1,381.1L212.6,381.0L212.7,381.0L213.1,380.9L213.6,380.8L214.1,380.6L214.6,380.5L215.1,380.3L215.6,380.2L216.1,380.0L216.6,379.8L217.1,379.7L217.6,379.5L218.1,379.3L218.6,379.1L219.1,378.9L219.6,378.7L220.1,378.5L220.6,378.3L221.1,378.1L221.3,378.0L221.6,377.9L222.1,377.5L222.6,377.2L223.1,376.9L223.6,376.5L224.1,376.1L224.6,375.8L225.1,375.4L225.6,375.0L226.1,374.6L226.6,374.2L227.1,373.7L227.6,373.3L228.1,372.9L228.6,372.4L228.7,372.4L229.1,371.9L229.6,371.3L230.1,370.7L230.6,370.1L231.1,369.5L231.6,368.9L232.1,368.2L232.6,367.5L233.1,366.9L233.6,366.2L234.1,365.5L234.6,364.9L235.1,364.2L235.6,363.5L236.1,362.8L236.6,362.2L237.1,361.5L237.2,361.3L237.6,360.9L238.1,360.3L238.6,359.7L239.1,359.0L239.6,358.4L240.1,357.8L240.6,357.1L241.1,356.5L241.6,355.9L242.1,355.3L242.6,354.7L243.1,354.0L243.6,353.4L244.1,352.8L244.6,352.2L245.1,351.5L245.6,350.9L246.1,350.3L246.6,349.7L247.1,349.1L247.1,349.0L247.6,348.4L248.1,347.8L248.6,347.2L249.1,346.6L249.6,346.0L250.1,345.4L250.6,344.8L251.1,344.2L251.6,343.6L252.1,343.0L252.6,342.4L253.1,341.8L253.6,341.1L254.1,340.5L254.6,339.9L255.1,339.2L255.6,338.6L256.1,337.9L256.6,337.2L256.9,336.8L257.1,336.5L257.6,335.6L258.1,334.7L258.6,333.8L259.1,332.9L259.6,332.0L260.1,331.0L260.6,330.1L261.1,329.1L261.6,328.2L262.1,327.2L262.6,326.3L263.1,325.3L263.6,324.4L264.1,323.6L264.2,323.3L264.6,322.7L265.1,321.9L265.6,321.0L266.1,320.1L266.6,319.2L267.1,318.4L267.6,317.6L268.1,316.9L268.6,316.4L269.1,316.0L269.1,316.0L269.6,316.0L270.1,316.0L270.6,316.0L271.1,316.0L271.6,316.0L272.1,316.0L272.6,316.0L272.8,316.0L273.1,316.2L273.6,316.7L274.1,317.4L274.6,318.3L275.1,319.2L275.6,320.2L276.1,321.2L276.5,322.1L276.6,322.3L277.1,323.8L277.6,325.3L278.1,327.0L278.6,328.8L279.1,330.5L279.6,332.3L280.1,334.0L280.2,334.4L280.6,335.8L281.1,337.5L281.6,339.3L282.1,341.1L282.6,342.9L283.1,344.7L283.6,346.5L284.1,348.2L284.6,349.9L285.1,351.5L285.1,351.5L285.6,352.9L286.1,354.2L286.6,355.5L287.1,356.7L287.6,358.0L288.1,359.2L288.6,360.4L289.1,361.6L289.6,362.8L290.0,363.8L290.1,364.0L290.6,365.2L291.1,366.4L291.6,367.7L292.1,368.9L292.6,370.1L293.1,371.2L293.6,372.3L294.1,373.4L294.6,374.3L294.9,374.8L295.1,375.0L295.6,375.5L296.1,376.0L296.6,376.4L297.1,376.9L297.6,377.3L298.1,377.7L298.6,378.1L299.1,378.4L299.6,378.8L300.1,379.1L300.6,379.4L301.1,379.8L301.6,380.1L302.1,380.4L302.3,380.5L302.6,380.6L303.1,380.8L303.6,381.0L304.1,381.2L304.6,381.4L305.1,381.6L305.6,381.8L306.1,382.0L306.6,382.1L307.1,382.3L307.6,382.5L308.1,382.7L308.6,382.8L309.1,383.0L309.6,383.1L310.1,383.3L310.6,383.4L311.1,383.6L311.6,383.8L312.1,383.9L312.6,384.1L313.1,384.2L313.6,384.4L314.1,384.5L314.5,384.7L314.6,384.7L315.1,384.8L315.6,385.0L316.1,385.1L316.6,385.2L317.1,385.3L317.6,385.5L318.1,385.6L318.6,385.7L319.1,385.9L319.6,386.0L320.1,386.1L320.6,386.2L321.1,386.3L321.6,386.5L322.1,386.6L322.6,386.7L323.1,386.8L323.6,387.0L324.1,387.1L324.6,387.2L325.1,387.4L325.6,387.5L326.1,387.6L326.6,387.8L326.8,387.9L327.1,387.9L327.6,388.1L328.1,388.3L328.6,388.5L329.1,388.7L329.6,388.8L330.1,389.0L330.6,389.2L331.1,389.4L331.6,389.6L332.1,389.8L332.6,390.0L333.1,390.2L333.6,390.4L334.1,390.6L334.6,390.8L335.1,391.0L335.6,391.1L336.1,391.3L336.6,391.5L337.1,391.7L337.6,391.9L338.1,392.1L338.6,392.3L339.1,392.5L339.1,392.5L339.6,392.7L340.1,392.9L340.6,393.1L341.1,393.3L341.6,393.5L342.1,393.7L342.6,393.9L343.1,394.1L343.6,394.3L344.1,394.5L344.6,394.8L345.1,395.0L345.6,395.2L346.1,395.4L346.6,395.6L347.1,395.8L347.6,396.0L348.1,396.2L348.6,396.4L349.1,396.6L349.6,396.8L350.1,397.0L350.6,397.1L351.1,397.3L351.3,397.4L351.6,397.5L352.1,397.7L352.6,397.8L353.1,398.0L353.6,398.1L354.1,398.3L354.6,398.4L355.1,398.6L355.6,398.7L356.1,398.9L356.6,399.0L357.1,399.2L357.6,399.3L358.1,399.5L358.6,399.6L359.1,399.8L359.6,399.9L360.1,400.1L360.6,400.2L361.1,400.4L361.6,400.5L362.1,400.6L362.6,400.8L363.1,400.9L363.6,401.1L363.6,401.1L364.1,401.2L364.6,401.4L365.1,401.5L365.6,401.7L366.1,401.9L366.6,402.0L367.1,402.2L367.6,402.3L368.1,402.5L368.6,402.6L369.1,402.8L369.6,402.9L370.1,403.1L370.6,403.2L371.1,403.4L371.6,403.5L372.1,403.7L372.6,403.8L373.1,404.0L373.6,404.1L374.1,404.3L374.6,404.4L375.1,404.6L375.6,404.7L375.9,404.8L376.1,404.8L376.6,405.0L377.1,405.1L377.6,405.2L378.1,405.4L378.6,405.5L379.1,405.6L379.6,405.8L380.1,405.9L380.6,406.0L381.1,406.2L381.6,406.3L382.1,406.4L382.6,406.5L383.1,406.7L383.6,406.8L384.1,406.9L384.6,407.1L385.1,407.2L385.6,407.3L386.1,407.4L386.6,407.6L387.1,407.7L387.6,407.8L388.1,408.0L388.2,408.0L388.6,408.1L389.1,408.2L389.6,408.3L390.1,408.5L390.6,408.6L391.1,408.7L391.6,408.8L392.1,409.0L392.6,409.1L393.1,409.2L393.6,409.4L394.1,409.5L394.6,409.6L395.1,409.7L395.6,409.9L396.1,410.0L396.6,410.1L397.1,410.2L397.6,410.3L398.0,410.4L398.1,410.5L398.6,410.6L399.1,410.7L399.6,410.8L400.1,410.9L400.6,411.0L401.1,411.1L401.6,411.2L402.1,411.3L402.6,411.4L403.1,411.5L403.6,411.6L404.1,411.7L404.6,411.8L405.1,411.9L405.6,412.0L406.1,412.1L406.6,412.2L407.1,412.3L407.6,412.4L407.8,412.4L408.1,412.4L408.6,412.5L409.1,412.5L409.6,412.6L410.1,412.7L410.6,412.7L411.1,412.8L411.6,412.8L412.1,412.9L412.6,412.9L412.7,412.9L413.1,412.9L413.6,412.9L414.1,412.9L414.6,412.9L415.1,412.9L415.6,412.9L416.1,412.9L416.6,412.9L417.1,412.9L417.6,412.9L418.1,412.9L418.6,412.9L419.1,412.9L419.6,412.9L420.1,412.9L420.6,412.9L421.1,412.9L421.6,412.9L422.1,412.9L422.6,412.9L423.1,412.9L423.6,412.9L424.1,412.9L424.6,412.9L425.1,412.9L425.6,412.9L426.1,412.9L426.6,412.9L427.1,412.9L427.6,412.9L428.1,412.9L428.6,412.9L429.1,412.9L429.6,412.9L430.1,412.9L430.6,412.9L431.1,412.9L431.6,412.9L432.1,412.9L432.6,412.9L433.1,412.9L433.6,412.9L434.1,412.9L434.6,412.9L435.1,412.9L435.6,412.9L436.1,412.9L436.6,412.9L437.1,412.9L437.6,412.9L438.1,412.9L438.6,412.9L439.1,412.9L439.6,412.9L440.1,412.9L440.6,412.9L441.1,412.9L441.6,412.9L442.1,412.9L442.6,412.9L443.1,412.9L443.6,412.9L444.1,412.9L444.6,412.9L445.1,412.9L445.6,412.9L446.1,412.9L446.6,412.9L447.1,412.9L447.6,412.9L448.1,412.9L448.6,412.9L449.1,412.9L449.6,412.9L450.1,412.9L450.6,412.9L451.1,412.9L451.6,412.9L452.1,412.9L452.6,412.9L453.1,412.9L453.6,412.9L454.1,412.9L454.6,412.9L455.1,412.9L455.6,412.9L456.1,412.9L456.6,412.9L457.1,412.9L457.6,412.9L458.1,412.9L458.6,412.9L459.1,412.9L459.6,412.9L460.1,412.9L460.6,412.9L461.1,412.9L461.6,412.9L462.1,412.9L462.6,412.9L463.1,412.9L463.6,412.9L464.1,412.9L464.6,412.9L465.1,412.9L465.6,412.9L466.1,412.9L466.6,412.9L467.1,412.9L467.6,412.9L468.1,412.9L468.6,412.9L469.1,412.9L469.6,412.9L470.1,412.9L470.6,412.9L471.1,412.9L471.6,412.9L472.1,412.9L472.6,412.9L473.1,412.9L473.6,412.9L474.1,412.9L474.6,412.9L475.1,412.9L475.6,412.9L476.1,412.9L476.6,412.9L477.1,412.9L477.6,412.9L478.1,412.9L478.6,412.9L479.1,412.9L479.6,412.9L480.1,412.9L480.6,412.9L481.1,412.9L481.6,412.9L482.1,412.9L482.6,412.9L483.1,412.9L483.6,412.9L484.1,412.9L484.6,412.9L485.1,412.9L485.6,412.9L486.1,412.9L486.6,412.9L487.1,412.9L487.6,412.9L488.1,412.9L488.6,412.9L489.1,412.9L489.6,412.9L490.1,412.9L490.6,412.9L491.1,412.9L491.6,412.9L492.1,412.9L492.6,412.9L493.1,412.9L493.6,412.9L494.1,412.9L494.6,412.9L495.1,412.9L495.6,412.9L496.1,412.9L496.6,412.9L497.1,412.9L497.6,412.9L498.1,412.9L498.6,412.9L499.1,412.9L499.6,412.9L500.1,412.9L500.6,412.9L501.1,412.9L501.6,412.9L502.1,412.9L502.6,412.9L503.1,412.9L503.6,412.9L504.1,412.9L504.6,412.9L505.1,412.9L505.6,412.9L506.1,412.9L506.6,412.9L507.1,412.9L507.6,412.9L508.1,412.9L508.6,412.9L509.1,412.9L509.6,412.9L510.1,412.9L510.6,412.9L511.1,412.9L511.6,412.9L512.1,412.9L512.6,412.9L513.1,412.9L513.6,412.9L514.1,412.9L514.6,412.9L515.1,412.9L515.6,412.9L516.1,412.9L516.6,412.9L517.1,412.9L517.6,412.9L518.1,412.9L518.6,412.9L519.1,412.9L519.6,412.9L520.1,412.9L520.6,412.9L521.1,412.9L521.6,412.9L522.1,412.9L522.6,412.9L523.1,412.9L523.6,412.9L524.1,412.9L524.6,412.9L525.1,412.9L525.6,412.9L526.1,412.9L526.6,412.9L527.1,412.9L527.6,412.9L528.1,412.9L528.6,412.9L529.1,412.9L529.6,412.9L530.1,412.9L530.6,412.9L531.1,412.9L531.6,412.9L532.1,412.9L532.6,412.9L533.1,412.9L533.6,412.9L534.1,412.9L534.6,412.9L535.1,412.9L535.6,412.9L536.1,412.9L536.6,412.9L537.1,412.9L537.6,412.9L538.1,412.9L538.6,412.9L539.1,412.9L539.1,412.9L539.6,412.9L540.1,412.9L540.6,412.9L541.1,412.9L541.6,412.9L542.1,412.9L542.6,412.9L543.1,412.9L543.6,412.9L544.1,412.9L544.6,412.9L545.1,412.9L545.6,412.9L546.1,412.9L546.6,412.9L547.1,412.9L547.6,412.9L548.1,412.9L548.6,412.9L549.1,412.9L549.6,412.9L550.1,412.9L550.6,412.9L551.1,412.9L551.6,412.9L552.1,412.9L552.6,412.9L553.1,412.9L553.6,412.9L554.1,412.9L554.6,412.9L555.1,412.9L555.6,412.9L556.1,412.9L556.6,412.9L557.1,412.9L557.6,412.9L558.1,412.9L558.6,412.9L559.1,412.9L559.6,412.9L560.1,412.9L560.6,412.9L561.1,412.9L561.6,412.9L562.1,412.9L562.6,412.9L563.1,412.9L563.6,412.9L564.1,412.9L564.6,412.9L565.1,412.9L565.6,412.9L566.1,412.9L566.6,412.9L567.1,412.9L567.6,412.9L568.1,412.9L568.6,412.9L569.1,412.9L569.6,412.9L570.1,412.9L570.6,412.9L571.1,412.9L571.6,412.9L572.1,412.9L572.6,412.9L573.1,412.9L573.6,412.9L574.1,412.9L574.6,412.9L575.1,412.9L575.6,412.9L576.1,412.9L576.6,412.9L577.1,412.9L577.6,412.9L578.1,412.9L578.6,412.9L579.1,412.9L579.6,412.9L580.1,412.9L580.6,412.9L581.1,412.9L581.6,412.9L582.1,412.9L582.6,412.9L583.1,412.9L583.6,412.9L584.1,412.9L584.6,412.9L585.1,412.9L585.6,412.9L586.1,412.9L586.6,412.9L587.1,412.9L587.6,412.9L588.1,412.9L588.6,412.9L589.1,412.9L589.6,412.9L590.1,412.9L590.6,412.9L591.1,412.9L591.6,412.9L592.1,412.9L592.6,412.9L593.1,412.9L593.6,412.9L594.1,412.9L594.6,412.9L595.1,412.9L595.6,412.9L596.1,412.9L596.6,412.9L597.1,412.9L597.6,412.9L598.1,412.9L598.6,412.9L599.1,412.9L599.6,412.9L600.1,412.9L600.6,412.9L601.1,412.9L601.6,412.9L602.1,412.9L602.6,412.9L603.1,412.9L603.6,412.9L604.1,412.9L604.6,412.9L605.1,412.9L605.6,412.9L606.1,412.9L606.6,412.9L607.1,412.9L607.6,412.9L608.1,412.9L608.6,412.9L609.1,412.9L609.6,412.9L610.1,412.9L610.6,412.9L611.1,412.9L611.6,412.9L612.1,412.9L612.6,412.9L612.7,412.9L613.1,412.9L613.6,412.9L614.1,412.9L614.6,412.9L615.1,412.9L615.6,412.9L616.1,412.9L616.6,412.9L617.1,412.9L617.6,412.9L618.1,412.9L618.6,412.9L619.1,412.8L619.6,412.8L620.1,412.8L620.6,412.8L621.1,412.8L621.6,412.8L622.1,412.8L622.6,412.8L623.1,412.8L623.6,412.8L624.1,412.8L624.6,412.8L625.1,412.8L625.6,412.8L626.1,412.8L626.6,412.8L627.1,412.8L627.6,412.8L628.1,412.8L628.6,412.8L629.1,412.8L629.6,412.8L630.1,412.8L630.6,412.8L631.1,412.8L631.6,412.8L632.1,412.8L632.6,412.8L633.1,412.7L633.6,412.7L634.1,412.7L634.6,412.7L635.1,412.7L635.6,412.7L636.1,412.7L636.6,412.7L637.1,412.7L637.6,412.7L638.1,412.7L638.6,412.7L639.1,412.7L639.6,412.7L640.1,412.7L640.6,412.7L641.1,412.7L641.6,412.7L642.1,412.7L642.6,412.7L643.1,412.7L643.6,412.6L644.1,412.6L644.6,412.6L645.1,412.6L645.6,412.6L646.1,412.6L646.6,412.6L647.1,412.6L647.6,412.6L648.1,412.6L648.6,412.6L649.1,412.6L649.6,412.6L650.1,412.6L650.6,412.6L651.1,412.5L651.6,412.5L652.1,412.5L652.6,412.5L653.1,412.5L653.6,412.5L654.1,412.5L654.6,412.5L655.1,412.5L655.6,412.5L656.1,412.5L656.6,412.5L657.1,412.5L657.6,412.4L658.1,412.4L658.6,412.4L659.1,412.4L659.6,412.4L660.1,412.4L660.6,412.4L661.1,412.4L661.6,412.4L662.1,412.4L662.6,412.4L663.1,412.3L663.6,412.3L664.1,412.3L664.6,412.3L665.1,412.3L665.6,412.3L666.1,412.3L666.6,412.3L667.1,412.3L667.6,412.2L668.1,412.2L668.6,412.2L669.1,412.2L669.6,412.2L670.1,412.2L670.6,412.2L671.1,412.2L671.6,412.1L672.1,412.1L672.6,412.1L673.1,412.1L673.6,412.1L674.1,412.1L674.6,412.1L675.1,412.0L675.6,412.0L676.1,412.0L676.6,412.0L676.9,412.0L677.1,411.5L677.6,409.2L678.1,406.2L678.6,402.7L679.0,400.0L679.1,399.3L679.6,395.3L680.1,391.0L680.6,386.7L680.8,385.0L681.1,382.9L681.6,379.3L682.1,375.9L682.6,372.5L682.7,371.5L683.1,369.6L683.6,366.8L684.1,364.1L684.6,361.5L685.0,359.5L685.1,359.1L685.6,357.0L686.1,355.0L686.6,353.0L687.1,351.1L687.6,349.3L688.0,348.0L688.1,347.8L688.6,346.7L689.1,345.7L689.6,344.7L690.1,343.7L690.6,342.8L691.0,342.0L691.1,341.8L691.6,340.7L692.1,339.7L692.5,339.0L692.6,338.9L693.1,338.6L693.6,338.4L694.0,338.2L694.1,338.3L694.6,339.0L695.1,340.0L695.6,341.1L696.1,341.9L696.2,342.0L696.6,341.9L697.1,341.7L697.6,341.4L698.1,341.1L698.6,340.8L699.1,340.4L699.6,340.0L700.0,339.7L700.1,339.7L700.6,339.2L701.1,338.8L701.6,338.3L702.1,337.9L702.6,337.4L703.1,336.9L703.6,336.4L704.1,335.8L704.6,335.3L705.1,334.8L705.6,334.2L706.0,333.7L706.1,333.6L706.6,332.9L707.1,332.2L707.6,331.5L708.1,330.8L708.6,330.0L709.1,329.2L709.6,328.5L710.1,327.7L710.5,327.0L710.6,326.8L711.1,325.9L711.6,325.0L712.1,324.0L712.6,323.0L713.1,322.0L713.6,321.0L714.1,319.9L714.6,318.9L715.0,318.0L715.1,317.8L715.6,316.6L716.1,315.4L716.6,314.1L717.1,312.9L717.6,311.6L718.0,310.5L718.1,310.2L718.6,308.9L719.1,307.5L719.6,306.1L720.1,304.6L720.6,303.0L721.0,301.5L721.1,301.0L721.6,298.2L722.1,294.7L722.5,291.0L722.6,289.0L722.9,279.0L723.1,276.4L723.6,267.9L723.7,266.0L724.1,257.5L724.6,246.6L724.7,243.5L725.1,238.3L725.6,231.2L726.1,225.4L726.2,224.0L726.6,222.8L727.1,221.3L727.6,220.0L728.1,218.9L728.5,218.0L728.6,217.9L729.1,217.2L729.6,216.5L730.1,215.9L730.6,215.2L730.7,215.0L731.1,214.2L731.6,213.0L732.1,211.6L732.6,210.2L733.0,209.0L733.1,208.7L733.6,206.7L734.1,204.7L734.5,203.5L734.6,203.4L735.1,202.9L735.6,202.5L736.1,202.2L736.6,201.9L737.1,201.6L737.5,201.2L737.6,201.1L738.1,200.6L738.6,200.0L739.1,199.4L739.6,198.8L740.1,198.1L740.5,197.5L740.6,197.3L741.1,196.2L741.6,195.1L742.0,194.5L742.1,194.6L742.6,195.8L743.1,197.5L743.5,199.0L743.6,199.4L744.1,201.7L744.6,204.2L745.0,206.0L745.1,206.4L745.6,208.1L746.1,209.6L746.6,211.2L747.1,212.9L747.2,213.5L747.6,215.5L748.1,218.8L748.6,222.3L749.1,225.8L749.5,228.5L749.6,229.0L750.1,231.8L750.6,234.5L751.1,237.1L751.6,239.7L751.7,240.5L752.1,242.4L752.6,245.4L753.1,247.6L753.2,248.0L753.6,243.3L754.0,236.0L754.1,235.0L754.6,230.1L754.7,228.5L755.1,223.6L755.6,216.1L755.8,213.5L756.1,211.4L756.6,208.3L757.0,206.0L757.1,205.6L757.6,203.5L758.1,201.6L758.6,199.7L759.1,197.9L759.6,196.0L760.0,194.5L760.1,194.1L760.6,192.2L761.1,190.2L761.6,188.2L762.1,186.3L762.6,184.3L763.1,182.2L763.6,180.2L763.7,179.5L764.1,177.9L764.6,175.6L765.1,173.2L765.6,170.8L766.1,168.4L766.6,166.0L766.7,165.2L767.1,163.6L767.6,161.1L768.1,159.0L768.2,158.5L768.6,158.0L769.1,157.4L769.6,156.9L770.1,156.5L770.5,156.2L770.6,156.2L771.1,156.1L771.6,156.0L772.1,155.9L772.6,155.8L773.1,155.6L773.5,155.5L773.6,155.4L774.1,154.4L774.6,153.1L775.1,151.6L775.6,150.0L775.7,149.5L776.1,148.1L776.6,145.8L777.1,143.4L777.6,140.9L778.0,139.0L778.1,138.6L778.6,136.3L779.1,133.9L779.6,131.7L780.1,129.6L780.2,129.0L780.6,128.0L781.1,126.6L781.6,125.2L782.1,124.0L782.5,123.0L782.6,122.8L783.1,121.7L783.6,120.5L784.1,119.4L784.6,118.5L785.1,117.8L785.2,117.7L785.6,118.2L786.1,118.9L786.6,119.9L787.1,121.1L787.6,122.3L788.1,123.5L788.5,124.5L788.6,124.8L789.1,126.4L789.6,128.2L790.1,130.1L790.6,131.9L791.1,133.5L791.5,134.5L791.6,134.6L792.1,135.2L792.6,135.6L793.1,136.0L793.6,136.4L794.1,137.0L794.5,137.5L794.6,137.8L795.1,139.9L795.6,142.6L796.0,145.0L796.1,145.7L796.6,149.9L797.1,154.5L797.2,155.5L797.6,159.8L798.1,165.7L798.2,167.5L798.6,171.9L799.1,178.5L799.3,181.0L799.6,184.0L800.1,188.9L800.5,193.0L800.6,194.1L801.1,200.1L801.5,206.0L801.6,208.2L802.1,223.9L802.2,228.5L802.6,235.0L803.1,243.3L803.3,246.5L803.6,249.9L804.1,255.4L804.6,260.5L805.1,264.8L805.2,266.0L805.6,267.5L806.1,269.6L806.6,271.4L807.1,273.1L807.6,274.7L808.1,276.1L808.2,276.5L808.6,277.1L809.1,277.8L809.6,278.5L809.9,279.0L810.1,279.5L810.6,281.1L811.1,282.9L811.6,284.8L812.0,286.5L812.1,287.0L812.6,290.0L813.1,293.4L813.6,297.0L813.8,298.5L814.1,301.0L814.6,305.6L815.1,310.3L815.6,315.0L815.7,316.5L816.1,319.6L816.6,324.2L817.1,328.8L817.6,333.0L818.0,336.0L818.1,336.4L818.6,338.9L819.1,341.3L819.6,343.3L820.1,344.7L820.2,345.0L820.6,344.5L821.1,343.5L821.6,342.1L822.1,340.5L822.5,339.0L822.6,338.4L823.1,333.9L823.6,328.5L824.0,324.0L824.1,322.9L824.6,316.8L825.1,310.4L825.2,309.0L825.6,303.5L826.1,296.3L826.2,294.0L826.6,288.9L827.1,281.5L827.3,279.0L827.6,277.2L828.1,274.6L828.6,272.3L829.1,269.9L829.2,269.0L829.6,266.7L830.1,263.0L830.6,259.5L830.7,258.5L831.1,256.9L831.6,254.7L832.1,252.6L832.6,250.8L833.0,249.5L833.1,249.3L833.6,248.4L834.1,247.4L834.6,246.6L835.1,245.9L835.6,245.3L836.0,245.0L836.1,245.1L836.6,245.8L837.1,246.9L837.6,248.1L838.1,249.2L838.2,249.5L838.6,250.1L839.1,250.8L839.6,251.6L840.1,252.4L840.6,253.1L841.1,253.8L841.2,254.0L841.6,254.4L842.1,255.0L842.6,255.6L843.1,256.1L843.6,256.6L844.1,256.9L844.2,257.0L844.6,256.9L845.1,256.8L845.6,256.6L846.1,256.4L846.6,256.2L847.1,255.9L847.6,255.7L848.0,255.5L848.1,255.4L848.6,255.1L849.1,254.8L849.6,254.4L850.1,254.0L850.6,253.6L851.1,253.2L851.6,252.7L851.7,252.5L852.1,251.8L852.6,250.7L853.1,249.4L853.6,247.9L854.0,246.5L854.1,246.0L854.6,242.8L855.1,239.0L855.5,236.0L855.6,235.3L856.1,231.6L856.6,227.8L856.7,227.0L857.1,223.9L857.6,219.8L858.1,216.0L858.5,213.5L858.6,213.2L859.1,211.8L859.6,210.8L860.1,209.8L860.6,208.8L861.1,207.5L861.5,206.0L861.6,205.1L862.1,197.7L862.2,196.0L862.6,194.8L863.1,193.4L863.6,192.4L863.7,192.2L864.1,192.4L864.6,192.8L865.1,193.3L865.6,193.9L866.0,194.5L866.1,194.8L866.6,196.7L867.1,199.2L867.6,202.2L867.8,203.5L868.1,207.3L868.6,215.5L869.0,221.0L869.1,221.5L869.6,223.9L870.1,226.0L870.6,227.8L871.1,229.5L871.2,230.0L871.6,231.0L872.1,232.3L872.6,233.5L873.1,234.7L873.6,235.9L874.1,237.1L874.2,237.5L874.6,238.3L875.1,239.6L875.6,240.9L876.1,242.2L876.6,243.5L877.1,244.6L877.6,245.7L878.0,246.5L878.1,246.6L878.6,247.2L879.1,247.9L879.6,248.5L880.1,249.0L880.6,249.5L881.1,249.9L881.6,250.2L881.7,250.2L882.1,249.7L882.6,248.4L883.1,246.7L883.6,244.9L884.0,243.5L884.1,243.1L884.6,240.9L885.1,238.4L885.6,236.0L886.1,233.7L886.2,233.0L886.6,231.8L887.1,230.1L887.6,228.4L888.1,226.8L888.5,225.5L888.6,225.2L889.1,223.7L889.6,222.2L890.1,220.8L890.6,219.3L891.1,217.8L891.5,216.5L891.6,216.2L892.1,214.4L892.6,212.6L893.1,210.6L893.6,208.3L893.7,207.5L894.1,204.0L894.6,197.7L895.1,190.7L895.2,188.5L895.6,182.3L896.1,172.7L896.3,169.0L896.6,164.6L897.1,157.4L897.5,152.5L897.6,151.8L898.1,148.5L898.4,147.2L898.6,147.3L899.1,147.7L899.6,148.1L900.1,148.6L900.6,149.2L901.1,149.8L901.6,150.4L902.0,151.0L902.1,151.2L902.6,152.3L903.1,153.6L903.6,155.0L904.1,156.6L904.6,158.4L905.0,160.0L905.1,160.7L905.6,165.6L906.1,171.4L906.6,177.3L906.8,179.5L907.1,182.4L907.6,187.2L908.1,191.9L908.6,196.2L908.7,197.5L909.1,199.5L909.6,202.1L910.1,204.9L910.2,206.0L910.6,210.9L911.0,216.5L911.1,217.0L911.6,219.6L912.1,221.7L912.6,223.5L913.1,225.0L913.2,225.5L913.6,226.2L914.1,227.0L914.6,227.9L915.1,228.6L915.6,229.3L916.1,229.8L916.2,230.0L916.6,230.2L917.1,230.4L917.6,230.7L918.1,230.9L918.6,231.0L919.1,231.2L919.2,231.2L919.6,231.1L920.1,230.9L920.6,230.6L921.1,230.2L921.6,229.8L922.1,229.4L922.2,229.2L922.6,228.4L923.1,226.7L923.6,224.8L924.1,222.7L924.5,221.0L924.6,220.6L925.1,218.5L925.6,216.2L926.0,213.5L926.1,211.1L926.4,199.0L926.6,197.1L927.1,191.8L927.5,189.2L927.6,189.7L928.1,193.9L928.5,199.0L928.6,199.6L929.1,208.0L929.1,209.0L929.6,217.9L929.7,221.0L930.1,228.2L930.5,236.0L930.6,237.1L931.1,242.3L931.6,246.9L932.0,251.0L932.1,252.3L932.6,259.4L933.1,267.3L933.2,269.0L933.6,277.0L933.7,279.0L934.1,284.0L934.3,286.5L934.6,290.1L935.1,295.9L935.2,297.0L935.6,300.2L936.1,303.7L936.2,304.5L936.6,305.4L937.1,306.6L937.6,307.6L938.1,308.4L938.5,309.0L938.6,309.1L939.1,309.4L939.6,309.6L940.0,309.7L940.1,309.6L940.6,308.1L941.1,306.1L941.5,304.5L941.6,304.2L942.1,302.2L942.6,300.3L943.0,299.2L943.1,299.2L943.6,298.9L944.1,298.6L944.6,298.4L945.1,298.2L945.2,298.2L945.6,298.3L946.1,298.7L946.6,299.1L947.1,299.6L947.6,300.1L948.1,300.6L948.2,300.7L948.6,301.3L949.1,302.1L949.6,302.9L950.1,303.9L950.6,304.8L951.1,305.8L951.6,306.7L952.0,307.5L952.1,307.7L952.6,308.6L953.1,309.6L953.6,310.5L954.1,311.5L954.6,312.6L955.0,313.5L955.1,313.8L955.6,315.1L956.1,316.5L956.6,318.5L956.8,319.5L957.1,325.5L957.2,328.5L957.6,331.0L958.1,333.7L958.3,334.5L958.6,335.1L959.1,336.0L959.6,336.8L960.1,337.5L960.6,338.0L961.0,338.2L961.1,338.2L961.6,338.2L962.1,338.1L962.6,337.9L963.1,337.8L963.6,337.6L964.0,337.5L964.1,337.5L964.6,337.2L965.1,336.9L965.6,336.6L966.1,336.3L966.6,336.1L967.0,336.0L967.1,336.0L967.6,336.4L968.1,336.8L968.6,337.4L969.1,337.9L969.6,338.5L970.0,339.0L970.1,339.1L970.6,339.7L971.1,340.4L971.6,341.0L972.1,341.7L972.6,342.4L973.1,343.0L973.6,343.7L974.1,344.4L974.5,345.0L974.6,345.1L975.1,345.9L975.6,346.7L976.1,347.5L976.6,348.3L977.1,349.1L977.6,349.9L978.1,350.6L978.6,351.4L979.0,352.0L979.1,352.1L979.6,352.8L980.1,353.5L980.6,354.1L981.1,354.8L981.6,355.3L982.0,355.7L982.1,355.8L982.6,356.2L983.1,356.5L983.6,356.8L984.1,357.1L984.6,357.4L985.1,357.7L985.6,357.9L986.1,358.2L986.5,358.3L986.6,358.3L987.1,358.4L987.6,358.5L988.1,358.5L988.6,358.6L989.1,358.6L989.6,358.7L990.1,358.7L990.5,358.7" stroke="#E69F00" stroke-width="1.15" fill="none" stroke-linejoin="round"/>
<path d="M98.6,345.9L99.1,346.0L99.6,346.2L100.1,346.3L100.6,346.5L101.1,346.6L101.6,346.7L102.1,346.9L102.6,347.0L103.1,347.2M115.6,350.8L115.8,350.8L116.1,350.7L116.6,350.6L117.1,350.4L117.6,350.2L118.1,350.0L118.6,349.8L119.1,349.5L119.6,349.3L120.1,349.0L120.6,348.7L121.1,348.4L121.6,348.1L122.1,347.8L122.6,347.5M132.6,343.0L132.9,342.9L133.1,342.9L133.6,342.9L134.1,342.9L134.6,342.9L135.1,342.9L135.6,342.9L136.1,342.9L136.6,342.9L137.1,342.9L137.6,342.9L138.1,342.9L138.6,342.9L139.1,342.9L139.1,342.9L139.6,343.1L140.1,343.4M147.6,350.9L148.1,351.6L148.6,352.4L149.1,353.1L149.6,353.8L150.1,354.6L150.6,355.3L151.1,356.1L151.3,356.4L151.6,356.8L152.1,357.6M157.6,367.0L158.1,367.8L158.6,368.5L158.7,368.7L159.1,369.2L159.6,369.8L160.1,370.5L160.6,371.1L161.1,371.7L161.6,372.4L162.1,373.0M170.6,380.2L171.1,380.5L171.6,380.8L172.1,381.1L172.6,381.3L173.1,381.6L173.6,381.8L174.1,382.0L174.6,382.2L174.7,382.2L175.1,382.3L175.6,382.4L176.1,382.5L176.6,382.6L177.1,382.7L177.6,382.7L178.1,382.8M189.1,383.2L189.6,383.2L190.1,383.1L190.6,383.1L191.1,383.1L191.6,383.0L192.1,383.0L192.6,383.0L193.1,382.9L193.1,382.9L193.6,382.9L194.1,382.9L194.6,382.8L195.1,382.8L195.6,382.8L196.1,382.7L196.6,382.7M208.1,381.6L208.6,381.6L209.1,381.5L209.6,381.4L210.1,381.4L210.6,381.3L211.1,381.2L211.6,381.2L212.1,381.1L212.6,381.0L212.7,381.0L213.1,380.9L213.6,380.8L214.1,380.6L214.6,380.5L215.1,380.3L215.6,380.2M224.6,375.8L225.1,375.4L225.6,375.0L226.1,374.6L226.6,374.2L227.1,373.7L227.6,373.3L228.1,372.9L228.6,372.4L228.7,372.4L229.1,371.9L229.6,371.3L230.1,370.7L230.6,370.1M237.1,361.5L237.2,361.3L237.6,360.9L238.1,360.3L238.6,359.7L239.1,359.0L239.6,358.4L240.1,357.8L240.6,357.1L241.1,356.5L241.6,355.9M249.1,346.6L249.6,346.0L250.1,345.4L250.6,344.8L251.1,344.2L251.6,343.6L252.1,343.0L252.6,342.4L253.1,341.8L253.6,341.1L254.1,340.5L254.6,339.9M260.1,331.0L260.6,330.1L261.1,329.1L261.6,328.2L262.1,327.2L262.6,326.3L263.1,325.3L263.6,324.4M268.1,316.9L268.6,316.4L269.1,316.0L269.1,316.0L269.6,316.0L270.1,316.0L270.6,316.0L271.1,316.0L271.6,316.0L272.1,316.0L272.6,316.0L272.8,316.0L273.1,316.2L273.6,316.7L274.1,317.4L274.6,318.3M278.6,328.8L279.1,330.5L279.6,332.3L280.1,334.0L280.2,334.4L280.6,335.8L281.1,337.5M284.1,348.2L284.6,349.9L285.1,351.5L285.1,351.5L285.6,352.9L286.1,354.2L286.6,355.5M290.6,365.2L291.1,366.4L291.6,367.7L292.1,368.9L292.6,370.1L293.1,371.2L293.6,372.3L294.1,373.4M301.6,380.1L302.1,380.4L302.3,380.5L302.6,380.6L303.1,380.8L303.6,381.0L304.1,381.2L304.6,381.4L305.1,381.6L305.6,381.8L306.1,382.0L306.6,382.1L307.1,382.3L307.6,382.5L308.1,382.7L308.6,382.8L309.1,383.0M318.6,385.7L319.1,385.9L319.6,386.0L320.1,386.1L320.6,386.2L321.1,386.3L321.6,386.5L322.1,386.6L322.6,386.7L323.1,386.8L323.6,387.0L324.1,387.1L324.6,387.2L325.1,387.4L325.6,387.5L326.1,387.6M336.6,391.5L337.1,391.7L337.6,391.9L338.1,392.1L338.6,392.3L339.1,392.5L339.1,392.5L339.6,392.7L340.1,392.9L340.6,393.1L341.1,393.3L341.6,393.5L342.1,393.7L342.6,393.9L343.1,394.1L343.6,394.3L344.1,394.5M354.6,398.4L355.1,398.6L355.6,398.7L356.1,398.9L356.6,399.0L357.1,399.2L357.6,399.3L358.1,399.5L358.6,399.6L359.1,399.8L359.6,399.9L360.1,400.1L360.6,400.2L361.1,400.4L361.6,400.5L362.1,400.6M372.6,403.8L373.1,404.0L373.6,404.1L374.1,404.3L374.6,404.4L375.1,404.6L375.6,404.7L375.9,404.8L376.1,404.8L376.6,405.0L377.1,405.1L377.6,405.2L378.1,405.4L378.6,405.5L379.1,405.6L379.6,405.8L380.1,405.9M390.6,408.6L391.1,408.7L391.6,408.8L392.1,409.0L392.6,409.1L393.1,409.2L393.6,409.4L394.1,409.5L394.6,409.6L395.1,409.7L395.6,409.9L396.1,410.0L396.6,410.1L397.1,410.2L397.6,410.3L398.0,410.4L398.1,410.5M409.6,412.6L410.1,412.7L410.6,412.7L411.1,412.8L411.6,412.8L412.1,412.9L412.6,412.9L412.7,412.9L413.1,412.9L413.6,412.9L414.1,412.9L414.6,412.9L415.1,412.9L415.6,412.9L416.1,412.9L416.6,412.9L417.1,412.9M428.1,412.9L428.6,412.9L429.1,412.9L429.6,412.9L430.1,412.9L430.6,412.9L431.1,412.9L431.6,412.9L432.1,412.9L432.6,412.9L433.1,412.9L433.6,412.9L434.1,412.9L434.6,412.9L435.1,412.9L435.6,412.9L436.1,412.9M448.1,412.9L448.6,412.9L449.1,412.9L449.6,412.9L450.1,412.9L450.6,412.9L451.1,412.9L451.6,412.9L452.1,412.9L452.6,412.9L453.1,412.9L453.6,412.9L454.1,412.9L454.6,412.9L455.1,412.9L455.6,412.9L456.1,412.9M468.6,412.9L469.1,412.9L469.6,412.9L470.1,412.9L470.6,412.9L471.1,412.9L471.6,412.9L472.1,412.9L472.6,412.9L473.1,412.9L473.6,412.9L474.1,412.9L474.6,412.9L475.1,412.9L475.6,412.9L476.1,412.9L476.6,412.9M487.1,412.9L487.6,412.9L488.1,412.9L488.6,412.9L489.1,412.9L489.6,412.9L490.1,412.9L490.6,412.9L491.1,412.9L491.6,412.9L492.1,412.9L492.6,412.9L493.1,412.9L493.6,412.9L494.1,412.9L494.6,412.9L495.1,412.9M506.1,412.9L506.6,412.9L507.1,412.9L507.6,412.9L508.1,412.9L508.6,412.9L509.1,412.9L509.6,412.9L510.1,412.9L510.6,412.9L511.1,412.9L511.6,412.9L512.1,412.9L512.6,412.9L513.1,412.9L513.6,412.9L514.1,412.9M525.1,412.9L525.6,412.9L526.1,412.9L526.6,412.9L527.1,412.9L527.6,412.9L528.1,412.9L528.6,412.9L529.1,412.9L529.6,412.9L530.1,412.9L530.6,412.9L531.1,412.9L531.6,412.9L532.1,412.9L532.6,412.9L533.1,412.9M541.1,412.9L541.6,412.9L542.1,412.9L542.6,412.9L543.1,412.9L543.6,412.9L544.1,412.9L544.6,412.9L545.1,412.9L545.6,412.9L546.1,412.9L546.6,412.9L547.1,412.9L547.6,412.9L548.1,412.9L548.6,412.9L549.1,412.9M560.1,412.9L560.6,412.9L561.1,412.9L561.6,412.9L562.1,412.9L562.6,412.9L563.1,412.9L563.6,412.9L564.1,412.9L564.6,412.9L565.1,412.9L565.6,412.9L566.1,412.9L566.6,412.9L567.1,412.9L567.6,412.9L568.1,412.9M579.1,412.9L579.6,412.9L580.1,412.9L580.6,412.9L581.1,412.9L581.6,412.9L582.1,412.9L582.6,412.9L583.1,412.9L583.6,412.9L584.1,412.9L584.6,412.9L585.1,412.9L585.6,412.9L586.1,412.9L586.6,412.9L587.1,412.9M598.1,412.9L598.6,412.9L599.1,412.9L599.6,412.9L600.1,412.9L600.6,412.9L601.1,412.9L601.6,412.9L602.1,412.9L602.6,412.9L603.1,412.9L603.6,412.9L604.1,412.9L604.6,412.9L605.1,412.9L605.6,412.9L606.1,412.9M617.6,412.9L618.1,412.9L618.6,412.9L619.1,412.8L619.6,412.8L620.1,412.8L620.6,412.8L621.1,412.8L621.6,412.8L622.1,412.8L622.6,412.8L623.1,412.8L623.6,412.8L624.1,412.8L624.6,412.8L625.1,412.8M636.6,412.7L637.1,412.7L637.6,412.7L638.1,412.7L638.6,412.7L639.1,412.7L639.6,412.7L640.1,412.7L640.6,412.7L641.1,412.7L641.6,412.7L642.1,412.7L642.6,412.7L643.1,412.7L643.6,412.6L644.1,412.6M653.6,412.5L654.1,412.5L654.6,412.5L655.1,412.5L655.6,412.5L656.1,412.5L656.6,412.5L657.1,412.5L657.6,412.4L658.1,412.4L658.6,412.4L659.1,412.4L659.6,412.4L660.1,412.4L660.6,412.4L661.1,412.4M671.1,412.2L671.6,412.1L672.1,412.1L672.6,412.1L673.1,412.1L673.6,412.1L674.1,412.1L674.6,412.1L675.1,412.0L675.6,412.0L676.1,412.0L676.6,412.0L676.9,412.0L677.1,411.5L677.6,409.2M679.6,395.3L680.1,391.0M681.6,379.3L682.1,375.9L682.6,372.5L682.7,371.5M685.0,359.5L685.1,359.1L685.6,357.0L686.1,355.0L686.6,353.0M690.6,342.8L691.0,342.0L691.1,341.8L691.6,340.7L692.1,339.7L692.5,339.0L692.6,338.9L693.1,338.6L693.6,338.4L694.0,338.2L694.1,338.3L694.6,339.0L695.1,340.0M703.6,336.4L704.1,335.8L704.6,335.3L705.1,334.8L705.6,334.2L706.0,333.7L706.1,333.6L706.6,332.9L707.1,332.2L707.6,331.5L708.1,330.8L708.6,330.0M714.1,319.9L714.6,318.9L715.0,318.0L715.1,317.8L715.6,316.6L716.1,315.4L716.6,314.1L717.1,312.9M721.0,301.5L721.1,301.0L721.6,298.2L722.1,294.7L722.5,291.0M722.9,279.0L723.1,276.4L723.6,267.9M723.6,267.9L723.7,266.0L724.1,257.5M724.6,246.6L724.7,243.5L725.1,238.3M726.1,225.4L726.2,224.0L726.6,222.8L727.1,221.3L727.6,220.0L728.1,218.9M731.6,213.0L732.1,211.6L732.6,210.2L733.0,209.0L733.1,208.7L733.6,206.7L734.1,204.7M740.1,198.1L740.5,197.5L740.6,197.3L741.1,196.2L741.6,195.1L742.0,194.5L742.1,194.6L742.6,195.8L743.1,197.5L743.5,199.0M745.0,206.0L745.1,206.4L745.6,208.1L746.1,209.6L746.6,211.2L747.1,212.9L747.2,213.5M749.1,225.8L749.5,228.5L749.6,229.0L750.1,231.8L750.6,234.5M752.6,245.4L753.1,247.6L753.2,248.0L753.6,243.3M754.6,230.1L754.7,228.5L755.1,223.6M755.8,213.5L756.1,211.4L756.6,208.3L757.0,206.0M760.0,194.5L760.1,194.1L760.6,192.2L761.1,190.2L761.6,188.2M763.6,180.2L763.7,179.5L764.1,177.9L764.6,175.6L765.1,173.2M767.1,163.6L767.6,161.1L768.1,159.0L768.2,158.5L768.6,158.0L769.1,157.4M775.1,151.6L775.6,150.0L775.7,149.5L776.1,148.1L776.6,145.8L777.1,143.4M779.6,131.7L780.1,129.6L780.2,129.0L780.6,128.0L781.1,126.6L781.6,125.2M785.1,117.8L785.2,117.7L785.6,118.2L786.1,118.9L786.6,119.9L787.1,121.1L787.6,122.3L788.1,123.5L788.5,124.5L788.6,124.8M791.1,133.5L791.5,134.5L791.6,134.6L792.1,135.2L792.6,135.6L793.1,136.0L793.6,136.4L794.1,137.0L794.5,137.5L794.6,137.8L795.1,139.9L795.6,142.6M797.1,154.5L797.2,155.5L797.6,159.8M798.6,171.9L799.1,178.5M800.1,188.9L800.5,193.0M801.5,206.0L801.6,208.2L802.1,223.9M802.2,228.5L802.6,235.0M803.1,243.3L803.3,246.5L803.6,249.9L804.1,255.4M805.1,264.8L805.2,266.0L805.6,267.5L806.1,269.6L806.6,271.4M808.2,276.5L808.6,277.1L809.1,277.8L809.6,278.5L809.9,279.0L810.1,279.5L810.6,281.1L811.1,282.9L811.6,284.8M813.8,298.5L814.1,301.0L814.6,305.6M815.7,316.5L816.1,319.6L816.6,324.2M817.6,333.0L818.0,336.0L818.1,336.4L818.6,338.9L819.1,341.3M821.6,342.1L822.1,340.5L822.5,339.0L822.6,338.4L823.1,333.9M824.6,316.8L825.1,310.4M826.1,296.3L826.2,294.0L826.6,288.9M827.1,281.5L827.3,279.0L827.6,277.2L828.1,274.6M830.1,263.0L830.6,259.5L830.7,258.5L831.1,256.9L831.6,254.7M834.6,246.6L835.1,245.9L835.6,245.3L836.0,245.0L836.1,245.1L836.6,245.8L837.1,246.9L837.6,248.1L838.1,249.2L838.2,249.5M841.6,254.4L842.1,255.0L842.6,255.6L843.1,256.1L843.6,256.6L844.1,256.9L844.2,257.0L844.6,256.9L845.1,256.8L845.6,256.6L846.1,256.4L846.6,256.2L847.1,255.9L847.6,255.7L848.0,255.5M853.1,249.4L853.6,247.9L854.0,246.5L854.1,246.0L854.6,242.8L855.1,239.0M856.1,231.6L856.6,227.8L856.7,227.0L857.1,223.9L857.6,219.8M859.1,211.8L859.6,210.8L860.1,209.8L860.6,208.8L861.1,207.5L861.5,206.0L861.6,205.1L862.1,197.7M862.2,196.0L862.6,194.8L863.1,193.4L863.6,192.4L863.7,192.2L864.1,192.4L864.6,192.8L865.1,193.3L865.6,193.9L866.0,194.5L866.1,194.8L866.6,196.7M867.8,203.5L868.1,207.3L868.6,215.5M869.0,221.0L869.1,221.5L869.6,223.9L870.1,226.0L870.6,227.8L871.1,229.5M872.6,233.5L873.1,234.7L873.6,235.9L874.1,237.1L874.2,237.5L874.6,238.3L875.1,239.6L875.6,240.9L876.1,242.2L876.6,243.5L877.1,244.6M883.1,246.7L883.6,244.9L884.0,243.5L884.1,243.1L884.6,240.9L885.1,238.4M887.6,228.4L888.1,226.8L888.5,225.5L888.6,225.2L889.1,223.7L889.6,222.2L890.1,220.8M893.1,210.6L893.6,208.3L893.7,207.5L894.1,204.0L894.6,197.7M895.1,190.7L895.2,188.5L895.6,182.3M896.1,172.7L896.3,169.0L896.6,164.6M897.5,152.5L897.6,151.8L898.1,148.5L898.4,147.2M904.6,158.4L905.0,160.0L905.1,160.7L905.6,165.6M906.6,177.3L906.8,179.5L907.1,182.4L907.6,187.2M908.6,196.2L908.7,197.5L909.1,199.5L909.6,202.1M911.0,216.5L911.1,217.0L911.6,219.6L912.1,221.7M915.1,228.6L915.6,229.3L916.1,229.8L916.2,230.0L916.6,230.2L917.1,230.4L917.6,230.7L918.1,230.9L918.6,231.0L919.1,231.2L919.2,231.2L919.6,231.1L920.1,230.9L920.6,230.6L921.1,230.2L921.6,229.8M924.5,221.0L924.6,220.6L925.1,218.5L925.6,216.2L926.0,213.5M926.4,199.0L926.6,197.1L927.1,191.8L927.5,189.2M929.1,208.0L929.1,209.0L929.6,217.9M930.1,228.2L930.5,236.0M932.0,251.0L932.1,252.3L932.6,259.4M933.1,267.3L933.2,269.0L933.6,277.0M934.3,286.5L934.6,290.1L935.1,295.9M936.1,303.7L936.2,304.5L936.6,305.4L937.1,306.6L937.6,307.6L938.1,308.4L938.5,309.0L938.6,309.1L939.1,309.4L939.6,309.6L940.0,309.7L940.1,309.6L940.6,308.1M943.1,299.2L943.6,298.9L944.1,298.6L944.6,298.4L945.1,298.2L945.2,298.2L945.6,298.3L946.1,298.7L946.6,299.1L947.1,299.6L947.6,300.1L948.1,300.6L948.2,300.7L948.6,301.3L949.1,302.1L949.6,302.9M954.1,311.5L954.6,312.6L955.0,313.5L955.1,313.8L955.6,315.1L956.1,316.5L956.6,318.5L956.8,319.5M957.6,331.0L958.1,333.7L958.3,334.5L958.6,335.1L959.1,336.0L959.6,336.8L960.1,337.5M968.1,336.8L968.6,337.4L969.1,337.9L969.6,338.5L970.0,339.0L970.1,339.1L970.6,339.7L971.1,340.4L971.6,341.0L972.1,341.7L972.6,342.4L973.1,343.0M977.6,349.9L978.1,350.6L978.6,351.4L979.0,352.0L979.1,352.1L979.6,352.8L980.1,353.5L980.6,354.1L981.1,354.8L981.6,355.3L982.0,355.7L982.1,355.8L982.6,356.2M986.5,358.3L986.6,358.3L987.1,358.4L987.6,358.5L988.1,358.5L988.6,358.6L989.1,358.6L989.6,358.7L990.1,358.7L990.5,358.7" stroke="#E69F00" stroke-width="4.2" fill="none" stroke-linejoin="round"/>
<rect x="98.12" y="13.88" width="892.38" height="399.00" fill="none" stroke="#000000" stroke-opacity="0.8" stroke-width="1.08"/>
<path d="M318,39.9H368" stroke="#009E73" stroke-width="4" fill="none"/>
<path d="M318,73H368" stroke="#56B4E9" stroke-width="4" stroke-dasharray="16 22.9" fill="none"/>
<path d="M318,106.8H368" stroke="#E69F00" stroke-width="4" stroke-dasharray="8 11.2" fill="none"/>
<g font-family="'Liberation Serif', 'DejaVu Serif', serif" font-size="33" fill="#000">
<text x="78.3" y="421.6" text-anchor="end" textLength="15.8" lengthAdjust="spacingAndGlyphs">0</text>
<text x="78.3" y="355.1" text-anchor="end" textLength="15.8" lengthAdjust="spacingAndGlyphs">5</text>
<text x="78.3" y="288.6" text-anchor="end" textLength="32.6" lengthAdjust="spacingAndGlyphs">10</text>
<text x="78.3" y="222.1" text-anchor="end" textLength="32.6" lengthAdjust="spacingAndGlyphs">15</text>
<text x="78.3" y="155.6" text-anchor="end" textLength="32.6" lengthAdjust="spacingAndGlyphs">20</text>
<text x="78.3" y="89.1" text-anchor="end" textLength="32.6" lengthAdjust="spacingAndGlyphs">25</text>
<text x="78.3" y="22.6" text-anchor="end" textLength="32.6" lengthAdjust="spacingAndGlyphs">30</text>
<text y="447.7"><tspan x="78.4" textLength="21.4" lengthAdjust="spacingAndGlyphs">−</tspan><tspan x="100.6" textLength="16.6" lengthAdjust="spacingAndGlyphs">1</tspan></text>
<text y="447.7"><tspan x="288.4" textLength="21.4" lengthAdjust="spacingAndGlyphs">−</tspan><tspan x="311.0" textLength="42.6" lengthAdjust="spacingAndGlyphs">0.5</tspan></text>
<text x="544.3" y="447.7" text-anchor="middle" textLength="15.6" lengthAdjust="spacingAndGlyphs">0</text>
<text x="767.4" y="447.7" text-anchor="middle" textLength="42.0" lengthAdjust="spacingAndGlyphs">0.5</text>
<text x="989.3" y="447.7" text-anchor="middle" textLength="14.0" lengthAdjust="spacingAndGlyphs">1</text>
<text x="543.0" y="480.0" text-anchor="middle" textLength="95.0" lengthAdjust="spacingAndGlyphs">E (eV)</text>
<text transform="translate(25,292.4) rotate(-90)"><tspan x="0" textLength="65.5" lengthAdjust="spacingAndGlyphs">DOS</tspan><tspan x="66.5" textLength="92" lengthAdjust="spacingAndGlyphs"> (a.u.)</tspan></text>
<text x="147.5" y="46.8" text-anchor="start" textLength="150.5" lengthAdjust="spacingAndGlyphs" font-size="31">yyyy-yyyy</text>
<text x="147.5" y="81.2" text-anchor="start" textLength="150.5" lengthAdjust="spacingAndGlyphs" font-size="31">xxxx-xxxx</text>
<text x="147.5" y="114.5" text-anchor="start" textLength="150.5" lengthAdjust="spacingAndGlyphs" font-size="31">xyyx-xyyx</text>
<text y="69.0"><tspan x="468.4" textLength="26.8" lengthAdjust="spacingAndGlyphs">Δ</tspan><tspan x="496.6" textLength="24.2" lengthAdjust="spacingAndGlyphs">=</tspan><tspan x="522.2" textLength="59.6" lengthAdjust="spacingAndGlyphs">0.59</tspan><tspan x="581.8" textLength="49.4" lengthAdjust="spacingAndGlyphs"> eV</tspan></text>
<text y="202.0"><tspan x="468.4" textLength="26.8" lengthAdjust="spacingAndGlyphs">Δ</tspan><tspan x="496.6" textLength="24.2" lengthAdjust="spacingAndGlyphs">=</tspan><tspan x="522.2" textLength="59.6" lengthAdjust="spacingAndGlyphs">0.35</tspan><tspan x="581.8" textLength="49.4" lengthAdjust="spacingAndGlyphs"> eV</tspan></text>
<text y="334.5"><tspan x="468.4" textLength="26.8" lengthAdjust="spacingAndGlyphs">Δ</tspan><tspan x="496.6" textLength="24.2" lengthAdjust="spacingAndGlyphs">=</tspan><tspan x="522.2" textLength="59.6" lengthAdjust="spacingAndGlyphs">0.17</tspan><tspan x="581.8" textLength="49.4" lengthAdjust="spacingAndGlyphs"> eV</tspan></text>
</g>
</svg>
</body></html>
